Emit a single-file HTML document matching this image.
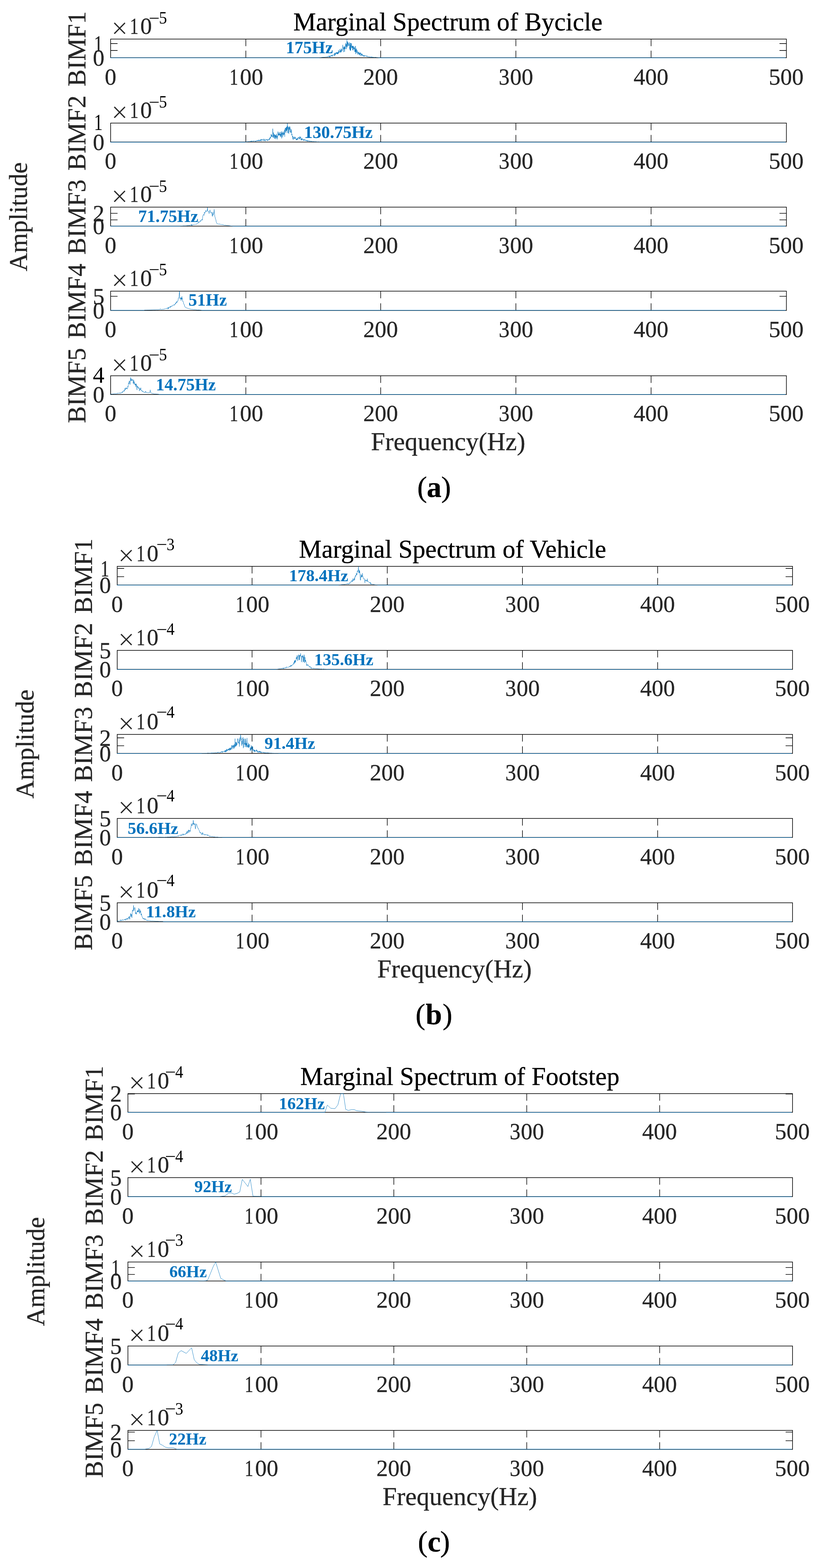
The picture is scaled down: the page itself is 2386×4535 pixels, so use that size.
<!DOCTYPE html>
<html lang="en">
<head>
<meta charset="utf-8">
<title>Marginal Spectrum</title>
<style>
html,body{margin:0;padding:0;background:#fff;}
body{width:2386px;height:4535px;overflow:hidden;}
svg{display:block;}
text{white-space:pre;}
</style>
</head>
<body>
<svg width="2386" height="4535" viewBox="0 0 2386 4535" font-family="'Liberation Serif', 'Times New Roman', serif" fill="#262626">
<style>text{stroke:#262626;stroke-width:0.45px;stroke-linejoin:round}.b{fill:#0072bd;stroke:none}.k{fill:#000;stroke:#000}</style>
<rect width="2386" height="4535" fill="#fff"/>
<g id="panel-a">
<rect x="319.96" y="113.00" width="1954.44" height="54.00" fill="none" stroke="#111" stroke-width="1.9"/>
<path d="M711.00 113.00v20.6M711.00 167.00v-20.6M1101.00 113.00v20.6M1101.00 167.00v-20.6M1492.00 113.00v20.6M1492.00 167.00v-20.6M1883.00 113.00v20.6M1883.00 167.00v-20.6M319.96 126.00h20.0M2274.40 126.00h-20.0M319.96 146.00h20.0M2274.40 146.00h-20.0" fill="none" stroke="#111" stroke-width="1.8"/>
<path d="M319.06 167.45H923.9M1094.9 167.45H2271.90" fill="none" stroke="#0072bd" stroke-width="1.25"/>
<path d="M923.9 167.4 L924.4 167.0 L924.9 166.4 L925.3 167.1 L925.8 166.8 L926.3 166.3 L926.8 166.1 L927.3 166.5 L927.8 166.5 L928.3 166.5 L928.8 166.0 L929.3 165.8 L929.7 166.2 L930.2 165.9 L930.7 165.7 L931.2 166.4 L931.7 165.5 L932.2 165.5 L932.7 165.8 L933.2 165.9 L933.7 165.9 L934.1 164.9 L934.6 164.6 L935.1 165.1 L935.6 165.7 L936.1 165.4 L936.6 165.9 L937.1 165.3 L937.6 164.8 L938.1 165.4 L938.5 165.3 L939.0 165.5 L939.5 165.2 L940.0 164.6 L940.5 164.9 L941.0 164.7 L941.5 164.0 L942.0 164.7 L942.4 164.8 L942.9 165.1 L943.4 164.9 L943.9 165.1 L944.4 164.6 L944.9 163.9 L945.4 163.6 L945.9 164.3 L946.4 165.3 L946.8 163.7 L947.3 164.3 L947.8 163.6 L948.3 164.1 L948.8 163.6 L949.3 164.4 L949.8 162.6 L950.3 163.1 L950.8 163.3 L951.2 161.7 L951.7 162.3 L952.2 165.0 L952.7 163.5 L953.2 161.6 L953.7 164.9 L954.2 162.4 L954.7 165.4 L955.2 161.7 L955.6 162.1 L956.1 162.2 L956.6 163.2 L957.1 161.5 L957.6 159.8 L958.1 161.9 L958.6 159.3 L959.1 159.7 L959.6 159.6 L960.0 159.8 L960.5 164.1 L961.0 160.2 L961.5 159.5 L962.0 161.4 L962.5 158.4 L963.0 158.6 L963.5 158.6 L963.9 158.7 L964.4 159.4 L964.9 158.2 L965.4 158.6 L965.9 158.4 L966.4 160.1 L966.9 159.1 L967.4 153.3 L967.9 161.7 L968.3 156.4 L968.8 157.0 L969.3 153.2 L969.8 158.4 L970.3 158.7 L970.8 153.1 L971.3 153.7 L971.8 152.0 L972.3 152.3 L972.7 154.4 L973.2 155.6 L973.7 150.7 L974.2 156.2 L974.7 152.7 L975.2 151.9 L975.7 155.6 L976.2 151.7 L976.7 151.2 L977.1 156.7 L977.6 151.4 L978.1 155.4 L978.6 146.5 L979.1 145.3 L979.6 153.4 L980.1 151.1 L980.6 150.5 L981.0 149.6 L981.5 149.1 L982.0 151.2 L982.5 148.2 L983.0 142.2 L983.5 145.8 L984.0 152.0 L984.5 147.6 L985.0 146.0 L985.4 147.7 L985.9 145.7 L986.4 151.5 L986.9 140.5 L987.4 150.1 L987.9 146.4 L988.4 143.1 L988.9 144.7 L989.4 144.3 L989.8 145.9 L990.3 146.4 L990.8 137.4 L991.3 129.8 L991.8 135.2 L992.3 139.8 L992.8 142.0 L993.3 140.7 L993.8 150.6 L994.2 135.7 L994.7 142.2 L995.2 140.0 L995.7 138.3 L996.2 133.9 L996.7 149.6 L997.2 137.7 L997.7 141.5 L998.2 134.9 L998.6 141.5 L999.1 133.0 L999.6 124.3 L1000.1 134.7 L1000.6 127.5 L1001.1 128.3 L1001.6 128.8 L1002.1 142.1 L1002.5 130.7 L1003.0 121.2 L1003.5 113.4 L1004.0 136.5 L1004.5 135.2 L1005.0 120.1 L1005.5 125.4 L1006.0 132.8 L1006.5 123.1 L1006.9 123.5 L1007.4 125.8 L1007.9 128.1 L1008.4 128.7 L1008.9 132.6 L1009.4 128.0 L1009.9 131.9 L1010.4 122.5 L1010.9 137.1 L1011.3 142.2 L1011.8 135.4 L1012.3 145.0 L1012.8 123.9 L1013.3 146.8 L1013.8 131.3 L1014.3 146.0 L1014.8 125.1 L1015.3 126.1 L1015.7 134.2 L1016.2 125.5 L1016.7 136.9 L1017.2 139.9 L1017.7 133.7 L1018.2 133.1 L1018.7 137.9 L1019.2 137.1 L1019.6 132.3 L1020.1 145.0 L1020.6 136.7 L1021.1 133.6 L1021.6 145.5 L1022.1 133.2 L1022.6 134.5 L1023.1 140.9 L1023.6 138.0 L1024.0 138.6 L1024.5 138.8 L1025.0 142.4 L1025.5 135.2 L1026.0 149.8 L1026.5 140.4 L1027.0 144.3 L1027.5 150.0 L1028.0 133.0 L1028.4 142.9 L1028.9 156.2 L1029.4 144.0 L1029.9 152.5 L1030.4 145.6 L1030.9 140.5 L1031.4 141.8 L1031.9 149.7 L1032.4 152.1 L1032.8 153.4 L1033.3 145.5 L1033.8 149.3 L1034.3 157.8 L1034.8 154.5 L1035.3 150.7 L1035.8 150.6 L1036.3 151.6 L1036.8 155.6 L1037.2 154.7 L1037.7 156.8 L1038.2 149.9 L1038.7 158.9 L1039.2 156.1 L1039.7 153.6 L1040.2 156.0 L1040.7 160.1 L1041.1 153.0 L1041.6 156.0 L1042.1 155.4 L1042.6 153.5 L1043.1 151.8 L1043.6 159.7 L1044.1 162.5 L1044.6 155.0 L1045.1 155.8 L1045.5 157.1 L1046.0 158.1 L1046.5 157.1 L1047.0 160.7 L1047.5 155.2 L1048.0 159.6 L1048.5 159.5 L1049.0 158.7 L1049.5 162.7 L1049.9 160.8 L1050.4 159.5 L1050.9 160.2 L1051.4 162.5 L1051.9 162.2 L1052.4 160.7 L1052.9 163.6 L1053.4 160.2 L1053.9 162.6 L1054.3 162.3 L1054.8 163.0 L1055.3 160.7 L1055.8 160.1 L1056.3 159.8 L1056.8 161.5 L1057.3 162.0 L1057.8 163.0 L1058.2 162.1 L1058.7 163.4 L1059.2 163.5 L1059.7 163.6 L1060.2 162.7 L1060.7 160.6 L1061.2 163.2 L1061.7 161.9 L1062.2 162.8 L1062.6 165.0 L1063.1 164.2 L1063.6 164.1 L1064.1 163.4 L1064.6 164.2 L1065.1 163.7 L1065.6 164.8 L1066.1 165.1 L1066.6 163.8 L1067.0 164.3 L1067.5 164.6 L1068.0 163.7 L1068.5 165.4 L1069.0 164.2 L1069.5 164.4 L1070.0 164.9 L1070.5 165.3 L1071.0 164.0 L1071.4 164.4 L1071.9 164.5 L1072.4 164.9 L1072.9 165.0 L1073.4 165.6 L1073.9 163.6 L1074.4 164.3 L1074.9 165.3 L1075.4 166.7 L1075.8 165.0 L1076.3 165.6 L1076.8 165.1 L1077.3 164.3 L1077.8 165.3 L1078.3 165.2 L1078.8 165.1 L1079.3 165.9 L1079.7 165.8 L1080.2 164.9 L1080.7 165.9 L1081.2 166.4 L1081.7 166.1 L1082.2 165.7 L1082.7 166.0 L1083.2 165.7 L1083.7 165.7 L1084.1 165.9 L1084.6 164.9 L1085.1 165.8 L1085.6 166.1 L1086.1 165.8 L1086.6 165.7 L1087.1 165.9 L1087.6 165.4 L1088.1 166.4 L1088.5 166.1 L1089.0 165.8 L1089.5 166.2 L1090.0 166.4 L1090.5 166.3 L1091.0 166.0 L1091.5 166.1 L1092.0 166.0 L1092.5 166.5 L1092.9 166.8 L1093.4 166.7 L1093.9 166.9 L1094.4 166.3 L1094.9 167.0" fill="none" stroke="#0072bd" stroke-width="1.0" stroke-linejoin="round"/>
<text x="826.80" y="154.00" font-size="50.0" font-weight="bold" class="b">175Hz</text>
<text x="319.66" y="245.15" font-size="67.1" text-anchor="middle">0</text>
<text y="245.15" font-size="67.1"><tspan x="663.73" textLength="25.16" lengthAdjust="spacingAndGlyphs">1</tspan><tspan x="693.92">00</tspan></text>
<text x="1100.70" y="245.15" font-size="67.1" text-anchor="middle">200</text>
<text y="245.15" font-size="67.1"><tspan x="1442.58" textLength="31.20" lengthAdjust="spacingAndGlyphs">3</tspan><tspan x="1474.92">00</tspan></text>
<text x="1882.70" y="245.15" font-size="67.1" text-anchor="middle">400</text>
<text x="2273.70" y="245.15" font-size="67.1" text-anchor="middle">500</text>
<text y="149.00" font-size="67.1"><tspan x="271.76" textLength="25.16" lengthAdjust="spacingAndGlyphs">1</tspan></text>
<text x="301.96" y="190.20" font-size="67.1" text-anchor="end">0</text>
<text y="98.30" font-size="67.1"><tspan x="322.36" y="110.10" font-size="84" style="stroke:#fff;stroke-width:0.5px">×</tspan><tspan x="375.51" y="98.30" textLength="25.16" lengthAdjust="spacingAndGlyphs">1</tspan><tspan x="405.71">0</tspan><tspan x="429.96" y="69.80" font-size="51.5" class="k" style="stroke:none" textLength="31.37" lengthAdjust="spacingAndGlyphs">−</tspan><tspan x="459.81" y="68.40" font-size="51.5" class="k" style="stroke:none" textLength="23.18" lengthAdjust="spacingAndGlyphs">5</tspan></text>
<text transform="translate(247.06 249.90) rotate(-90)" font-size="73.8">BIMF1</text>
<rect x="319.96" y="356.00" width="1954.44" height="54.80" fill="none" stroke="#111" stroke-width="1.9"/>
<path d="M711.00 356.00v20.6M711.00 410.80v-20.6M1101.00 356.00v20.6M1101.00 410.80v-20.6M1492.00 356.00v20.6M1492.00 410.80v-20.6M1883.00 356.00v20.6M1883.00 410.80v-20.6" fill="none" stroke="#111" stroke-width="1.8"/>
<path d="M319.06 411.25H709.7M925.2 411.25H2271.90" fill="none" stroke="#0072bd" stroke-width="1.25"/>
<path d="M709.7 410.9 L710.2 410.6 L710.7 410.4 L711.1 410.0 L711.6 409.9 L712.1 410.5 L712.6 409.9 L713.1 410.1 L713.6 410.5 L714.1 409.9 L714.6 410.0 L715.1 409.7 L715.5 410.4 L716.0 409.3 L716.5 409.9 L717.0 409.3 L717.5 410.5 L718.0 409.6 L718.5 409.1 L719.0 409.6 L719.4 408.9 L719.9 408.8 L720.4 409.4 L720.9 409.0 L721.4 408.6 L721.9 408.9 L722.4 409.3 L722.9 409.0 L723.4 408.9 L723.8 408.0 L724.3 408.4 L724.8 408.4 L725.3 409.2 L725.8 410.1 L726.3 407.2 L726.8 409.5 L727.3 407.6 L727.8 407.9 L728.2 409.0 L728.7 408.3 L729.2 408.5 L729.7 407.5 L730.2 408.9 L730.7 408.8 L731.2 408.3 L731.7 409.2 L732.2 408.4 L732.6 406.8 L733.1 407.7 L733.6 408.9 L734.1 408.0 L734.6 407.9 L735.1 407.6 L735.6 407.2 L736.1 407.8 L736.5 408.0 L737.0 407.5 L737.5 409.3 L738.0 408.5 L738.5 407.5 L739.0 407.4 L739.5 409.5 L740.0 408.6 L740.5 407.7 L740.9 408.8 L741.4 408.6 L741.9 407.5 L742.4 405.5 L742.9 405.9 L743.4 407.6 L743.9 407.1 L744.4 407.3 L744.9 405.8 L745.3 406.4 L745.8 407.9 L746.3 405.3 L746.8 407.1 L747.3 406.2 L747.8 406.0 L748.3 404.5 L748.8 407.0 L749.3 408.2 L749.7 405.6 L750.2 405.6 L750.7 406.8 L751.2 407.7 L751.7 405.4 L752.2 404.6 L752.7 405.1 L753.2 407.1 L753.7 404.4 L754.1 405.6 L754.6 402.7 L755.1 408.4 L755.6 405.7 L756.1 403.3 L756.6 403.7 L757.1 402.4 L757.6 404.5 L758.0 405.8 L758.5 404.8 L759.0 405.0 L759.5 405.0 L760.0 404.7 L760.5 406.4 L761.0 403.1 L761.5 401.7 L762.0 401.6 L762.4 405.9 L762.9 406.5 L763.4 407.4 L763.9 405.2 L764.4 406.4 L764.9 405.5 L765.4 406.4 L765.9 401.7 L766.4 405.4 L766.8 405.5 L767.3 408.3 L767.8 405.9 L768.3 405.2 L768.8 404.9 L769.3 404.9 L769.8 404.9 L770.3 402.6 L770.8 402.5 L771.2 403.5 L771.7 405.3 L772.2 403.7 L772.7 403.7 L773.2 407.3 L773.7 403.6 L774.2 405.3 L774.7 404.5 L775.1 405.0 L775.6 406.1 L776.1 404.7 L776.6 403.4 L777.1 404.7 L777.6 405.6 L778.1 401.4 L778.6 402.4 L779.1 400.2 L779.5 403.8 L780.0 403.2 L780.5 401.1 L781.0 396.2 L781.5 396.3 L782.0 399.1 L782.5 400.3 L783.0 396.6 L783.5 396.6 L783.9 389.3 L784.4 387.8 L784.9 391.6 L785.4 395.5 L785.9 390.1 L786.4 394.2 L786.9 392.9 L787.4 395.0 L787.9 396.9 L788.3 391.5 L788.8 372.2 L789.3 384.6 L789.8 384.8 L790.3 395.4 L790.8 398.7 L791.3 383.5 L791.8 395.8 L792.3 391.3 L792.7 389.5 L793.2 397.4 L793.7 400.9 L794.2 388.4 L794.7 390.5 L795.2 389.7 L795.7 401.6 L796.2 391.2 L796.6 395.3 L797.1 397.9 L797.6 390.9 L798.1 393.4 L798.6 402.5 L799.1 392.4 L799.6 387.2 L800.1 390.7 L800.6 399.1 L801.0 392.8 L801.5 393.3 L802.0 397.7 L802.5 403.2 L803.0 393.7 L803.5 394.4 L804.0 380.5 L804.5 391.8 L805.0 389.6 L805.4 383.6 L805.9 388.5 L806.4 390.9 L806.9 387.8 L807.4 392.0 L807.9 388.6 L808.4 389.7 L808.9 383.6 L809.4 390.7 L809.8 381.6 L810.3 395.5 L810.8 388.7 L811.3 388.2 L811.8 392.4 L812.3 387.5 L812.8 396.5 L813.3 383.2 L813.7 385.7 L814.2 379.9 L814.7 400.4 L815.2 384.8 L815.7 388.3 L816.2 388.6 L816.7 383.7 L817.2 391.1 L817.7 396.8 L818.1 382.4 L818.6 380.4 L819.1 382.2 L819.6 388.6 L820.1 391.3 L820.6 384.2 L821.1 384.9 L821.6 389.1 L822.1 383.1 L822.5 375.7 L823.0 378.3 L823.5 395.5 L824.0 373.6 L824.5 374.1 L825.0 370.0 L825.5 383.7 L826.0 381.3 L826.5 378.6 L826.9 369.6 L827.4 373.7 L827.9 378.7 L828.4 366.6 L828.9 376.8 L829.4 367.1 L829.9 375.8 L830.4 384.8 L830.9 357.2 L831.3 365.9 L831.8 367.9 L832.3 374.3 L832.8 365.3 L833.3 379.9 L833.8 384.6 L834.3 367.6 L834.8 368.5 L835.2 386.4 L835.7 381.5 L836.2 368.4 L836.7 374.8 L837.2 365.9 L837.7 365.4 L838.2 374.7 L838.7 366.9 L839.2 381.3 L839.6 371.8 L840.1 377.8 L840.6 384.0 L841.1 380.9 L841.6 383.4 L842.1 382.0 L842.6 374.2 L843.1 375.6 L843.6 391.0 L844.0 389.2 L844.5 387.5 L845.0 391.7 L845.5 395.5 L846.0 396.0 L846.5 394.1 L847.0 401.7 L847.5 394.3 L848.0 404.2 L848.4 400.4 L848.9 397.8 L849.4 397.7 L849.9 397.2 L850.4 398.8 L850.9 400.6 L851.4 401.1 L851.9 398.9 L852.3 395.2 L852.8 401.8 L853.3 400.5 L853.8 398.9 L854.3 396.8 L854.8 397.1 L855.3 399.8 L855.8 402.8 L856.3 402.0 L856.7 404.6 L857.2 403.1 L857.7 402.1 L858.2 405.5 L858.7 400.7 L859.2 404.9 L859.7 398.7 L860.2 401.8 L860.7 401.8 L861.1 402.5 L861.6 403.8 L862.1 402.3 L862.6 397.0 L863.1 400.0 L863.6 399.5 L864.1 397.3 L864.6 399.5 L865.1 400.5 L865.5 400.1 L866.0 402.3 L866.5 394.8 L867.0 400.6 L867.5 402.1 L868.0 395.6 L868.5 395.7 L869.0 397.7 L869.5 398.3 L869.9 396.1 L870.4 404.2 L870.9 402.0 L871.4 400.7 L871.9 406.1 L872.4 402.1 L872.9 403.3 L873.4 402.3 L873.8 399.4 L874.3 404.8 L874.8 404.4 L875.3 404.9 L875.8 403.7 L876.3 403.8 L876.8 402.3 L877.3 402.9 L877.8 407.1 L878.2 405.4 L878.7 404.2 L879.2 403.8 L879.7 405.6 L880.2 406.2 L880.7 404.9 L881.2 403.4 L881.7 402.6 L882.2 406.0 L882.6 404.9 L883.1 405.9 L883.6 406.8 L884.1 405.6 L884.6 407.1 L885.1 406.8 L885.6 407.2 L886.1 405.4 L886.6 407.3 L887.0 406.7 L887.5 406.3 L888.0 408.2 L888.5 408.2 L889.0 405.8 L889.5 407.0 L890.0 408.5 L890.5 406.6 L890.9 407.7 L891.4 408.2 L891.9 409.0 L892.4 408.4 L892.9 406.7 L893.4 406.4 L893.9 406.4 L894.4 407.9 L894.9 408.2 L895.3 409.7 L895.8 407.9 L896.3 408.9 L896.8 408.6 L897.3 407.6 L897.8 407.9 L898.3 408.5 L898.8 409.4 L899.3 408.9 L899.7 407.6 L900.2 407.9 L900.7 409.3 L901.2 408.1 L901.7 409.2 L902.2 409.6 L902.7 409.1 L903.2 409.6 L903.7 409.5 L904.1 409.3 L904.6 408.4 L905.1 408.8 L905.6 409.9 L906.1 409.4 L906.6 409.2 L907.1 409.6 L907.6 409.1 L908.1 410.2 L908.5 409.7 L909.0 409.6 L909.5 409.7 L910.0 409.4 L910.5 409.0 L911.0 409.6 L911.5 410.3 L912.0 410.1 L912.4 409.6 L912.9 409.9 L913.4 409.7 L913.9 409.3 L914.4 409.8 L914.9 410.2 L915.4 410.1 L915.9 410.0 L916.4 410.2 L916.8 410.4 L917.3 410.2 L917.8 409.8 L918.3 410.2 L918.8 410.7 L919.3 410.0 L919.8 410.1 L920.3 409.9 L920.8 410.4 L921.2 410.2 L921.7 410.2 L922.2 409.7 L922.7 410.2 L923.2 410.5 L923.7 410.7 L924.2 410.6 L924.7 410.6 L925.2 411.2" fill="none" stroke="#0072bd" stroke-width="1.0" stroke-linejoin="round"/>
<text x="879.15" y="399.40" font-size="50.0" font-weight="bold" class="b">130.75Hz</text>
<text x="319.66" y="488.48" font-size="67.1" text-anchor="middle">0</text>
<text y="488.48" font-size="67.1"><tspan x="663.73" textLength="25.16" lengthAdjust="spacingAndGlyphs">1</tspan><tspan x="693.92">00</tspan></text>
<text x="1100.70" y="488.48" font-size="67.1" text-anchor="middle">200</text>
<text y="488.48" font-size="67.1"><tspan x="1442.58" textLength="31.20" lengthAdjust="spacingAndGlyphs">3</tspan><tspan x="1474.92">00</tspan></text>
<text x="1882.70" y="488.48" font-size="67.1" text-anchor="middle">400</text>
<text x="2273.70" y="488.48" font-size="67.1" text-anchor="middle">500</text>
<text y="376.00" font-size="67.1" class="k" style="stroke:none"><tspan x="271.76" textLength="25.16" lengthAdjust="spacingAndGlyphs">1</tspan></text>
<text x="301.96" y="434.00" font-size="67.1" text-anchor="end">0</text>
<text y="341.30" font-size="67.1"><tspan x="322.36" y="353.10" font-size="84" style="stroke:#fff;stroke-width:0.5px">×</tspan><tspan x="375.51" y="341.30" textLength="25.16" lengthAdjust="spacingAndGlyphs">1</tspan><tspan x="405.71">0</tspan><tspan x="429.96" y="312.80" font-size="51.5" class="k" style="stroke:none" textLength="31.37" lengthAdjust="spacingAndGlyphs">−</tspan><tspan x="459.81" y="311.40" font-size="51.5" class="k" style="stroke:none" textLength="23.18" lengthAdjust="spacingAndGlyphs">5</tspan></text>
<text transform="translate(247.06 493.30) rotate(-90)" font-size="73.8">BIMF2</text>
<rect x="319.96" y="599.10" width="1954.44" height="54.90" fill="none" stroke="#111" stroke-width="1.9"/>
<path d="M711.00 599.10v20.6M711.00 654.00v-20.6M1101.00 599.10v20.6M1101.00 654.00v-20.6M1492.00 599.10v20.6M1492.00 654.00v-20.6M1883.00 599.10v20.6M1883.00 654.00v-20.6M319.96 616.90h20.0M2274.40 616.90h-20.0M319.96 635.90h20.0M2274.40 635.90h-20.0" fill="none" stroke="#111" stroke-width="1.8"/>
<path d="M319.06 654.45H521.7M672.2 654.45H2271.90" fill="none" stroke="#0072bd" stroke-width="1.25"/>
<path d="M521.7 654.4 L522.6 653.8 L523.6 653.5 L524.6 653.6 L525.6 653.6 L526.5 653.4 L527.5 653.5 L528.5 653.3 L529.5 653.4 L530.5 652.5 L531.4 653.5 L532.4 653.0 L533.4 653.2 L534.4 652.9 L535.3 653.2 L536.3 653.2 L537.3 653.1 L538.3 652.7 L539.2 653.0 L540.2 652.9 L541.2 652.6 L542.2 652.4 L543.2 652.3 L544.1 652.6 L545.1 652.2 L546.1 651.3 L547.1 652.1 L548.0 652.1 L549.0 651.9 L550.0 651.8 L551.0 651.1 L552.0 649.8 L552.9 651.4 L553.9 648.8 L554.9 652.9 L555.9 650.0 L556.8 650.4 L557.8 649.7 L558.8 649.5 L559.8 649.3 L560.7 649.5 L561.7 648.9 L562.7 649.3 L563.7 648.3 L564.7 649.0 L565.6 648.6 L566.6 648.9 L567.6 647.6 L568.6 647.8 L569.5 648.8 L570.5 646.6 L571.5 645.2 L572.5 644.5 L573.5 645.2 L574.4 640.1 L575.4 643.8 L576.4 642.4 L577.4 640.8 L578.3 640.3 L579.3 641.3 L580.3 637.4 L581.3 639.3 L582.2 635.9 L583.2 634.9 L584.2 634.2 L585.2 637.0 L586.2 627.9 L587.1 622.5 L588.1 621.7 L589.1 620.3 L590.1 622.9 L591.0 613.8 L592.0 616.5 L593.0 616.3 L594.0 612.5 L594.9 608.8 L595.9 611.5 L596.9 610.0 L597.9 611.6 L598.9 610.3 L599.8 600.5 L600.8 610.5 L601.8 611.0 L602.8 611.5 L603.7 611.4 L604.7 618.0 L605.7 609.7 L606.7 608.7 L607.7 607.1 L608.6 614.5 L609.6 613.7 L610.6 612.9 L611.6 616.4 L612.5 614.7 L613.5 623.6 L614.5 626.1 L615.5 613.6 L616.4 622.5 L617.4 618.8 L618.4 617.7 L619.4 605.5 L620.4 618.1 L621.3 626.2 L622.3 628.9 L623.3 633.9 L624.3 635.2 L625.2 641.3 L626.2 643.4 L627.2 646.2 L628.2 646.8 L629.2 647.0 L630.1 648.4 L631.1 648.7 L632.1 647.6 L633.1 647.8 L634.0 648.1 L635.0 648.5 L636.0 647.9 L637.0 649.0 L637.9 648.7 L638.9 649.7 L639.9 649.2 L640.9 648.9 L641.9 649.6 L642.8 650.0 L643.8 648.8 L644.8 650.0 L645.8 650.2 L646.7 650.7 L647.7 650.1 L648.7 650.9 L649.7 651.4 L650.7 651.6 L651.6 651.5 L652.6 650.3 L653.6 651.9 L654.6 651.7 L655.5 652.2 L656.5 651.8 L657.5 652.3 L658.5 652.1 L659.4 652.7 L660.4 652.2 L661.4 652.5 L662.4 653.0 L663.4 652.7 L664.3 653.0 L665.3 653.0 L666.3 653.5 L667.3 653.3 L668.2 653.4 L669.2 653.6 L670.2 653.6 L671.2 653.5 L672.2 654.4" fill="none" stroke="#0072bd" stroke-width="1.0" stroke-linejoin="round"/>
<text x="399.85" y="642.00" font-size="50.0" font-weight="bold" class="b">71.75Hz</text>
<text x="319.66" y="731.81" font-size="67.1" text-anchor="middle">0</text>
<text y="731.81" font-size="67.1"><tspan x="663.73" textLength="25.16" lengthAdjust="spacingAndGlyphs">1</tspan><tspan x="693.92">00</tspan></text>
<text x="1100.70" y="731.81" font-size="67.1" text-anchor="middle">200</text>
<text y="731.81" font-size="67.1"><tspan x="1442.58" textLength="31.20" lengthAdjust="spacingAndGlyphs">3</tspan><tspan x="1474.92">00</tspan></text>
<text x="1882.70" y="731.81" font-size="67.1" text-anchor="middle">400</text>
<text x="2273.70" y="731.81" font-size="67.1" text-anchor="middle">500</text>
<text x="301.96" y="639.90" font-size="67.1" text-anchor="end">2</text>
<text x="301.96" y="677.20" font-size="67.1" text-anchor="end">0</text>
<text y="584.40" font-size="67.1"><tspan x="322.36" y="596.20" font-size="84" style="stroke:#fff;stroke-width:0.5px">×</tspan><tspan x="375.51" y="584.40" textLength="25.16" lengthAdjust="spacingAndGlyphs">1</tspan><tspan x="405.71">0</tspan><tspan x="429.96" y="555.90" font-size="51.5" class="k" style="stroke:none" textLength="31.37" lengthAdjust="spacingAndGlyphs">−</tspan><tspan x="459.81" y="554.50" font-size="51.5" class="k" style="stroke:none" textLength="23.18" lengthAdjust="spacingAndGlyphs">5</tspan></text>
<text transform="translate(247.06 736.45) rotate(-90)" font-size="73.8">BIMF3</text>
<rect x="319.96" y="842.10" width="1954.44" height="55.80" fill="none" stroke="#111" stroke-width="1.9"/>
<path d="M711.00 842.10v20.6M711.00 897.90v-20.6M1101.00 842.10v20.6M1101.00 897.90v-20.6M1492.00 842.10v20.6M1492.00 897.90v-20.6M1883.00 842.10v20.6M1883.00 897.90v-20.6M319.96 856.90h20.0M2274.40 856.90h-20.0" fill="none" stroke="#111" stroke-width="1.8"/>
<path d="M319.06 897.45H417.3M583.0 897.45H2271.90" fill="none" stroke="#0072bd" stroke-width="1.25"/>
<path d="M417.3 897.3 L418.1 896.7 L418.9 896.5 L419.6 896.7 L420.4 896.9 L421.2 896.9 L422.0 896.6 L422.8 896.4 L423.5 896.8 L424.3 896.8 L425.1 896.8 L425.9 896.3 L426.7 896.4 L427.5 896.7 L428.2 896.5 L429.0 896.8 L429.8 896.2 L430.6 896.7 L431.4 896.4 L432.1 896.6 L432.9 896.2 L433.7 896.4 L434.5 896.4 L435.3 896.4 L436.1 896.0 L436.8 896.3 L437.6 896.3 L438.4 896.1 L439.2 896.2 L440.0 896.2 L440.7 896.2 L441.5 895.6 L442.3 896.2 L443.1 896.1 L443.9 895.3 L444.7 895.9 L445.4 896.1 L446.2 895.9 L447.0 895.6 L447.8 896.1 L448.6 895.9 L449.3 895.8 L450.1 895.7 L450.9 895.6 L451.7 895.9 L452.5 895.4 L453.3 895.2 L454.0 895.9 L454.8 895.4 L455.6 896.1 L456.4 895.3 L457.2 896.2 L457.9 895.8 L458.7 894.9 L459.5 894.8 L460.3 894.8 L461.1 895.0 L461.9 895.1 L462.6 895.0 L463.4 893.5 L464.2 893.2 L465.0 894.7 L465.8 894.9 L466.5 894.6 L467.3 895.6 L468.1 895.1 L468.9 894.5 L469.7 894.3 L470.5 894.4 L471.2 895.2 L472.0 894.0 L472.8 894.6 L473.6 894.1 L474.4 894.0 L475.1 894.3 L475.9 893.2 L476.7 893.6 L477.5 893.2 L478.3 893.0 L479.1 892.4 L479.8 892.1 L480.6 892.2 L481.4 891.8 L482.2 891.7 L483.0 891.9 L483.7 893.9 L484.5 891.4 L485.3 891.0 L486.1 888.4 L486.9 893.7 L487.7 890.9 L488.4 891.4 L489.2 887.9 L490.0 887.7 L490.8 888.4 L491.6 887.9 L492.3 890.1 L493.1 885.5 L493.9 887.6 L494.7 885.7 L495.5 886.0 L496.3 886.2 L497.0 884.6 L497.8 885.8 L498.6 884.8 L499.4 882.8 L500.2 882.0 L500.9 882.8 L501.7 881.8 L502.5 883.1 L503.3 882.7 L504.1 880.6 L504.9 882.3 L505.6 882.0 L506.4 880.0 L507.2 876.1 L508.0 878.3 L508.8 878.4 L509.5 874.4 L510.3 872.2 L511.1 875.6 L511.9 872.8 L512.7 873.3 L513.4 873.3 L514.2 869.2 L515.0 869.3 L515.8 862.1 L516.6 861.4 L517.4 862.3 L518.1 854.0 L518.9 842.4 L519.7 853.6 L520.5 865.2 L521.3 861.6 L522.0 862.2 L522.8 861.1 L523.6 869.6 L524.4 861.0 L525.2 866.0 L526.0 857.4 L526.7 864.6 L527.5 863.1 L528.3 871.7 L529.1 871.1 L529.9 872.4 L530.6 875.7 L531.4 879.0 L532.2 880.4 L533.0 880.9 L533.8 885.5 L534.6 887.3 L535.3 887.6 L536.1 887.8 L536.9 889.7 L537.7 889.5 L538.5 890.4 L539.2 890.3 L540.0 890.0 L540.8 890.9 L541.6 892.1 L542.4 891.2 L543.2 891.8 L543.9 892.0 L544.7 891.9 L545.5 892.8 L546.3 892.5 L547.1 892.2 L547.8 893.2 L548.6 893.5 L549.4 893.5 L550.2 893.9 L551.0 893.9 L551.8 894.1 L552.5 894.4 L553.3 894.3 L554.1 894.8 L554.9 894.4 L555.7 894.7 L556.4 894.0 L557.2 894.9 L558.0 894.9 L558.8 895.4 L559.6 895.1 L560.4 895.2 L561.1 895.5 L561.9 896.0 L562.7 895.7 L563.5 894.4 L564.3 895.4 L565.0 895.9 L565.8 895.6 L566.6 895.9 L567.4 895.8 L568.2 896.1 L569.0 895.7 L569.7 896.2 L570.5 896.6 L571.3 896.2 L572.1 896.5 L572.9 896.1 L573.6 896.2 L574.4 896.4 L575.2 896.7 L576.0 895.6 L576.8 896.7 L577.6 896.9 L578.3 896.6 L579.1 896.9 L579.9 896.7 L580.7 896.9 L581.5 897.0 L582.2 897.1 L583.0 897.2" fill="none" stroke="#0072bd" stroke-width="1.0" stroke-linejoin="round"/>
<text x="545.05" y="883.50" font-size="50.0" font-weight="bold" class="b">51Hz</text>
<text x="319.66" y="975.14" font-size="67.1" text-anchor="middle">0</text>
<text y="975.14" font-size="67.1"><tspan x="663.73" textLength="25.16" lengthAdjust="spacingAndGlyphs">1</tspan><tspan x="693.92">00</tspan></text>
<text x="1100.70" y="975.14" font-size="67.1" text-anchor="middle">200</text>
<text y="975.14" font-size="67.1"><tspan x="1442.58" textLength="31.20" lengthAdjust="spacingAndGlyphs">3</tspan><tspan x="1474.92">00</tspan></text>
<text x="1882.70" y="975.14" font-size="67.1" text-anchor="middle">400</text>
<text x="2273.70" y="975.14" font-size="67.1" text-anchor="middle">500</text>
<text x="301.96" y="879.90" font-size="67.1" text-anchor="end">5</text>
<text x="301.96" y="921.10" font-size="67.1" text-anchor="end">0</text>
<text y="827.40" font-size="67.1"><tspan x="322.36" y="839.20" font-size="84" style="stroke:#fff;stroke-width:0.5px">×</tspan><tspan x="375.51" y="827.40" textLength="25.16" lengthAdjust="spacingAndGlyphs">1</tspan><tspan x="405.71">0</tspan><tspan x="429.96" y="796.90" font-size="51.5" class="k" style="stroke:none" textLength="31.37" lengthAdjust="spacingAndGlyphs">−</tspan><tspan x="459.81" y="795.50" font-size="51.5" class="k" style="stroke:none" textLength="23.18" lengthAdjust="spacingAndGlyphs">5</tspan></text>
<text transform="translate(247.06 979.90) rotate(-90)" font-size="73.8">BIMF4</text>
<rect x="319.96" y="1086.80" width="1954.44" height="54.20" fill="none" stroke="#111" stroke-width="1.9"/>
<path d="M711.00 1086.80v20.6M711.00 1141.00v-20.6M1101.00 1086.80v20.6M1101.00 1141.00v-20.6M1492.00 1086.80v20.6M1492.00 1141.00v-20.6M1883.00 1086.80v20.6M1883.00 1141.00v-20.6" fill="none" stroke="#111" stroke-width="1.8"/>
<path d="M319.06 1140.55H320.4M459.5 1140.55H2271.90" fill="none" stroke="#0072bd" stroke-width="1.25"/>
<path d="M320.4 1140.4 L321.1 1139.6 L321.9 1139.6 L322.7 1139.7 L323.5 1139.8 L324.3 1139.6 L325.0 1139.7 L325.8 1139.5 L326.6 1138.7 L327.4 1139.4 L328.2 1139.2 L329.0 1139.0 L329.7 1138.9 L330.5 1139.0 L331.3 1138.3 L332.1 1139.0 L332.9 1138.7 L333.6 1138.9 L334.4 1138.7 L335.2 1138.8 L336.0 1138.9 L336.8 1138.6 L337.5 1138.3 L338.3 1138.1 L339.1 1138.8 L339.9 1138.3 L340.7 1136.4 L341.5 1137.3 L342.2 1137.9 L343.0 1137.5 L343.8 1137.2 L344.6 1136.8 L345.4 1136.6 L346.1 1137.5 L346.9 1136.2 L347.7 1137.5 L348.5 1136.0 L349.3 1137.3 L350.1 1136.0 L350.8 1136.2 L351.6 1136.5 L352.4 1134.6 L353.2 1133.4 L354.0 1135.6 L354.7 1132.4 L355.5 1132.2 L356.3 1132.9 L357.1 1130.8 L357.9 1131.5 L358.7 1128.7 L359.4 1131.6 L360.2 1130.3 L361.0 1123.2 L361.8 1124.8 L362.6 1127.7 L363.3 1125.5 L364.1 1121.4 L364.9 1124.8 L365.7 1121.8 L366.5 1122.4 L367.3 1124.1 L368.0 1125.0 L368.8 1124.9 L369.6 1116.9 L370.4 1119.4 L371.2 1112.8 L371.9 1106.9 L372.7 1110.1 L373.5 1102.3 L374.3 1101.4 L375.1 1105.8 L375.9 1112.3 L376.6 1104.8 L377.4 1097.9 L378.2 1091.5 L379.0 1102.3 L379.8 1095.7 L380.5 1100.2 L381.3 1099.7 L382.1 1099.1 L382.9 1100.8 L383.7 1096.4 L384.5 1099.6 L385.2 1109.1 L386.0 1107.1 L386.8 1099.2 L387.6 1112.0 L388.4 1103.9 L389.1 1109.7 L389.9 1110.2 L390.7 1113.6 L391.5 1111.1 L392.3 1109.8 L393.1 1119.3 L393.8 1109.9 L394.6 1115.1 L395.4 1115.1 L396.2 1127.9 L397.0 1117.9 L397.7 1115.9 L398.5 1120.9 L399.3 1118.8 L400.1 1119.3 L400.9 1123.9 L401.7 1121.8 L402.4 1121.1 L403.2 1130.8 L404.0 1124.1 L404.8 1125.0 L405.6 1125.0 L406.3 1127.5 L407.1 1121.3 L407.9 1129.0 L408.7 1130.3 L409.5 1129.3 L410.3 1131.0 L411.0 1129.9 L411.8 1132.5 L412.6 1132.6 L413.4 1130.9 L414.2 1133.2 L414.9 1133.4 L415.7 1133.6 L416.5 1135.2 L417.3 1135.0 L418.1 1134.5 L418.9 1135.5 L419.6 1133.9 L420.4 1134.9 L421.2 1131.6 L422.0 1134.6 L422.8 1135.2 L423.5 1134.0 L424.3 1135.5 L425.1 1135.3 L425.9 1135.8 L426.7 1136.0 L427.5 1135.4 L428.2 1135.3 L429.0 1135.7 L429.8 1135.9 L430.6 1136.5 L431.4 1135.2 L432.1 1135.3 L432.9 1134.6 L433.7 1135.2 L434.5 1127.5 L435.3 1134.7 L436.1 1135.4 L436.8 1136.3 L437.6 1136.3 L438.4 1136.9 L439.2 1137.5 L440.0 1137.9 L440.7 1137.4 L441.5 1138.4 L442.3 1138.1 L443.1 1138.5 L443.9 1138.8 L444.7 1138.9 L445.4 1139.0 L446.2 1139.1 L447.0 1139.3 L447.8 1139.4 L448.6 1139.9 L449.3 1139.3 L450.1 1139.1 L450.9 1139.1 L451.7 1139.7 L452.5 1139.4 L453.3 1139.8 L454.0 1139.8 L454.8 1139.8 L455.6 1139.8 L456.4 1139.8 L457.2 1140.0 L457.9 1139.8 L458.7 1140.2 L459.5 1140.3" fill="none" stroke="#0072bd" stroke-width="1.0" stroke-linejoin="round"/>
<text x="450.70" y="1129.00" font-size="50.0" font-weight="bold" class="b">14.75Hz</text>
<text x="319.66" y="1218.47" font-size="67.1" text-anchor="middle">0</text>
<text y="1218.47" font-size="67.1"><tspan x="663.73" textLength="25.16" lengthAdjust="spacingAndGlyphs">1</tspan><tspan x="693.92">00</tspan></text>
<text x="1100.70" y="1218.47" font-size="67.1" text-anchor="middle">200</text>
<text y="1218.47" font-size="67.1"><tspan x="1442.58" textLength="31.20" lengthAdjust="spacingAndGlyphs">3</tspan><tspan x="1474.92">00</tspan></text>
<text x="1882.70" y="1218.47" font-size="67.1" text-anchor="middle">400</text>
<text x="2273.70" y="1218.47" font-size="67.1" text-anchor="middle">500</text>
<text x="301.96" y="1106.80" font-size="67.1" text-anchor="end" class="k" style="stroke:none">4</text>
<text x="301.96" y="1164.20" font-size="67.1" text-anchor="end">0</text>
<text y="1072.10" font-size="67.1"><tspan x="322.36" y="1083.90" font-size="84" style="stroke:#fff;stroke-width:0.5px">×</tspan><tspan x="375.51" y="1072.10" textLength="25.16" lengthAdjust="spacingAndGlyphs">1</tspan><tspan x="405.71">0</tspan><tspan x="429.96" y="1043.60" font-size="51.5" class="k" style="stroke:none" textLength="31.37" lengthAdjust="spacingAndGlyphs">−</tspan><tspan x="459.81" y="1042.20" font-size="51.5" class="k" style="stroke:none" textLength="23.18" lengthAdjust="spacingAndGlyphs">5</tspan></text>
<text transform="translate(247.06 1223.80) rotate(-90)" font-size="73.8">BIMF5</text>
<text x="848.22" y="88.30" font-size="73.8" class="k">Marginal Spectrum of Bycicle</text>
<text transform="translate(77.56 784.86) rotate(-90)" font-size="73.8">Amplitude</text>
<text x="1072.72" y="1302.20" font-size="73.8">Frequency(Hz)</text>
<text y="1436.90" font-size="85" class="k"><tspan x="1206.85">(</tspan><tspan x="1234.35" font-weight="bold">a</tspan><tspan x="1276.05">)</tspan></text>
</g>
<g id="panel-b">
<rect x="339.00" y="1638.00" width="1953.10" height="54.00" fill="none" stroke="#111" stroke-width="1.9"/>
<path d="M729.00 1638.00v20.6M729.00 1692.00v-20.6M1120.00 1638.00v20.6M1120.00 1692.00v-20.6M1511.00 1638.00v20.6M1511.00 1692.00v-20.6M1902.00 1638.00v20.6M1902.00 1692.00v-20.6M339.00 1644.00h20.0M2292.10 1644.00h-20.0M339.00 1667.95h20.0M2292.10 1667.95h-20.0" fill="none" stroke="#111" stroke-width="1.8"/>
<path d="M338.10 1692.45H979.6M1091.3 1692.45H2289.60" fill="none" stroke="#0072bd" stroke-width="1.25"/>
<path d="M979.6 1691.8 L980.4 1691.6 L981.2 1691.7 L982.0 1691.3 L982.7 1691.5 L983.5 1691.3 L984.3 1691.3 L985.1 1691.2 L985.9 1691.5 L986.6 1691.1 L987.4 1691.1 L988.2 1690.4 L989.0 1691.2 L989.8 1690.7 L990.6 1690.5 L991.3 1691.0 L992.1 1690.6 L992.9 1690.6 L993.7 1690.5 L994.5 1690.6 L995.2 1690.3 L996.0 1690.7 L996.8 1690.4 L997.6 1690.2 L998.4 1689.6 L999.1 1689.6 L999.9 1689.2 L1000.7 1689.0 L1001.5 1689.4 L1002.3 1689.1 L1003.1 1689.1 L1003.8 1687.7 L1004.6 1689.0 L1005.4 1687.9 L1006.2 1687.7 L1007.0 1689.8 L1007.7 1688.6 L1008.5 1687.7 L1009.3 1689.0 L1010.1 1686.5 L1010.9 1685.2 L1011.6 1686.1 L1012.4 1688.1 L1013.2 1685.0 L1014.0 1684.1 L1014.8 1681.6 L1015.6 1682.1 L1016.3 1683.1 L1017.1 1682.4 L1017.9 1677.7 L1018.7 1681.1 L1019.5 1682.6 L1020.2 1679.6 L1021.0 1673.1 L1021.8 1678.3 L1022.6 1679.7 L1023.4 1676.5 L1024.1 1677.7 L1024.9 1671.7 L1025.7 1677.8 L1026.5 1667.9 L1027.3 1669.4 L1028.1 1664.1 L1028.8 1666.3 L1029.6 1665.9 L1030.4 1657.9 L1031.2 1659.1 L1032.0 1663.0 L1032.7 1659.6 L1033.5 1650.4 L1034.3 1653.8 L1035.1 1651.2 L1035.9 1648.8 L1036.6 1638.5 L1037.4 1655.2 L1038.2 1657.6 L1039.0 1648.3 L1039.8 1656.2 L1040.6 1652.5 L1041.3 1666.9 L1042.1 1677.9 L1042.9 1678.1 L1043.7 1667.4 L1044.5 1660.5 L1045.2 1669.8 L1046.0 1664.1 L1046.8 1668.1 L1047.6 1666.4 L1048.4 1657.8 L1049.1 1668.9 L1049.9 1667.9 L1050.7 1673.4 L1051.5 1674.7 L1052.3 1674.8 L1053.1 1673.3 L1053.8 1674.0 L1054.6 1674.3 L1055.4 1685.9 L1056.2 1677.3 L1057.0 1677.1 L1057.7 1678.3 L1058.5 1680.0 L1059.3 1677.6 L1060.1 1680.5 L1060.9 1679.3 L1061.6 1681.9 L1062.4 1673.5 L1063.2 1681.8 L1064.0 1681.2 L1064.8 1681.3 L1065.6 1681.8 L1066.3 1683.1 L1067.1 1683.9 L1067.9 1685.2 L1068.7 1685.9 L1069.5 1684.4 L1070.2 1687.0 L1071.0 1687.9 L1071.8 1684.6 L1072.6 1690.2 L1073.4 1688.7 L1074.1 1689.3 L1074.9 1688.9 L1075.7 1688.6 L1076.5 1689.6 L1077.3 1689.9 L1078.1 1689.8 L1078.8 1690.5 L1079.6 1690.3 L1080.4 1690.4 L1081.2 1691.0 L1082.0 1690.6 L1082.7 1690.7 L1083.5 1691.0 L1084.3 1691.5 L1085.1 1691.5 L1085.9 1691.1 L1086.6 1691.4 L1087.4 1691.6 L1088.2 1691.5 L1089.0 1691.8 L1089.8 1691.5 L1090.6 1691.7 L1091.3 1692.1" fill="none" stroke="#0072bd" stroke-width="1.0" stroke-linejoin="round"/>
<text x="835.90" y="1680.50" font-size="49.3" font-weight="bold" class="b">178.4Hz</text>
<text x="338.70" y="1770.15" font-size="67.1" text-anchor="middle">0</text>
<text y="1770.15" font-size="67.1"><tspan x="681.73" textLength="25.16" lengthAdjust="spacingAndGlyphs">1</tspan><tspan x="711.92">00</tspan></text>
<text x="1119.70" y="1770.15" font-size="67.1" text-anchor="middle">200</text>
<text y="1770.15" font-size="67.1"><tspan x="1461.58" textLength="31.20" lengthAdjust="spacingAndGlyphs">3</tspan><tspan x="1493.92">00</tspan></text>
<text x="1901.70" y="1770.15" font-size="67.1" text-anchor="middle">400</text>
<text x="2291.40" y="1770.15" font-size="67.1" text-anchor="middle">500</text>
<text y="1667.00" font-size="67.1"><tspan x="290.81" textLength="25.16" lengthAdjust="spacingAndGlyphs">1</tspan></text>
<text x="321.00" y="1715.20" font-size="67.1" text-anchor="end">0</text>
<text y="1623.30" font-size="67.1"><tspan x="341.40" y="1635.10" font-size="84" style="stroke:#fff;stroke-width:0.5px">×</tspan><tspan x="394.56" y="1623.30" textLength="25.16" lengthAdjust="spacingAndGlyphs">1</tspan><tspan x="424.75">0</tspan><tspan x="452.00" y="1592.30" font-size="51.5" class="k" style="stroke:none" textLength="31.37" lengthAdjust="spacingAndGlyphs">−</tspan><tspan x="481.85" y="1590.90" font-size="51.5" class="k" style="stroke:none" textLength="23.18" lengthAdjust="spacingAndGlyphs">3</tspan></text>
<text transform="translate(266.10 1774.90) rotate(-90)" font-size="73.8">BIMF1</text>
<rect x="339.00" y="1881.00" width="1953.10" height="54.90" fill="none" stroke="#111" stroke-width="1.9"/>
<path d="M729.00 1881.00v20.6M729.00 1935.90v-20.6M1120.00 1881.00v20.6M1120.00 1935.90v-20.6M1511.00 1881.00v20.6M1511.00 1935.90v-20.6M1902.00 1881.00v20.6M1902.00 1935.90v-20.6" fill="none" stroke="#111" stroke-width="1.8"/>
<path d="M338.10 1936.35H799.2M946.8 1936.35H2289.60" fill="none" stroke="#0072bd" stroke-width="1.25"/>
<path d="M799.2 1936.0 L799.9 1935.8 L800.7 1935.4 L801.5 1935.3 L802.3 1935.3 L803.1 1935.3 L803.8 1935.0 L804.6 1934.9 L805.4 1934.8 L806.2 1934.4 L807.0 1934.4 L807.7 1934.1 L808.5 1934.3 L809.3 1934.1 L810.1 1934.5 L810.9 1933.9 L811.7 1933.9 L812.4 1934.1 L813.2 1933.8 L814.0 1932.8 L814.8 1933.9 L815.6 1932.9 L816.3 1933.2 L817.1 1933.5 L817.9 1932.0 L818.7 1933.4 L819.5 1931.3 L820.2 1934.2 L821.0 1932.8 L821.8 1933.4 L822.6 1931.1 L823.4 1932.2 L824.2 1931.3 L824.9 1931.3 L825.7 1930.9 L826.5 1932.6 L827.3 1931.1 L828.1 1928.5 L828.8 1930.4 L829.6 1931.2 L830.4 1930.6 L831.2 1929.8 L832.0 1929.7 L832.7 1929.6 L833.5 1930.9 L834.3 1929.7 L835.1 1928.5 L835.9 1928.1 L836.6 1928.8 L837.4 1926.8 L838.2 1928.2 L839.0 1929.4 L839.8 1924.5 L840.6 1926.9 L841.3 1926.0 L842.1 1924.6 L842.9 1927.0 L843.7 1923.8 L844.5 1925.0 L845.2 1922.8 L846.0 1922.6 L846.8 1922.4 L847.6 1920.7 L848.4 1921.9 L849.1 1920.8 L849.9 1915.6 L850.7 1920.1 L851.5 1910.1 L852.3 1916.7 L853.1 1910.4 L853.8 1916.4 L854.6 1910.1 L855.4 1912.7 L856.2 1908.6 L857.0 1900.7 L857.7 1906.4 L858.5 1903.6 L859.3 1895.5 L860.1 1903.4 L860.9 1911.3 L861.6 1898.5 L862.4 1898.4 L863.2 1893.4 L864.0 1895.9 L864.8 1908.6 L865.6 1895.7 L866.3 1908.9 L867.1 1894.0 L867.9 1898.0 L868.7 1897.7 L869.5 1889.4 L870.2 1898.6 L871.0 1902.5 L871.8 1914.7 L872.6 1897.0 L873.4 1899.1 L874.1 1897.3 L874.9 1901.6 L875.7 1894.5 L876.5 1915.4 L877.3 1898.6 L878.1 1914.0 L878.8 1905.1 L879.6 1893.4 L880.4 1898.6 L881.2 1917.2 L882.0 1900.8 L882.7 1914.2 L883.5 1909.5 L884.3 1910.2 L885.1 1913.3 L885.9 1915.2 L886.6 1924.8 L887.4 1921.9 L888.2 1925.0 L889.0 1922.5 L889.8 1922.1 L890.6 1924.7 L891.3 1922.7 L892.1 1925.2 L892.9 1925.7 L893.7 1928.0 L894.5 1927.6 L895.2 1928.9 L896.0 1929.6 L896.8 1926.8 L897.6 1931.0 L898.4 1930.9 L899.1 1931.8 L899.9 1933.8 L900.7 1930.7 L901.5 1931.2 L902.3 1931.7 L903.1 1933.3 L903.8 1933.7 L904.6 1932.8 L905.4 1933.6 L906.2 1933.0 L907.0 1931.9 L907.7 1933.6 L908.5 1933.0 L909.3 1932.8 L910.1 1933.3 L910.9 1933.8 L911.6 1933.8 L912.4 1934.1 L913.2 1933.5 L914.0 1933.2 L914.8 1933.5 L915.6 1934.1 L916.3 1934.1 L917.1 1933.6 L917.9 1933.5 L918.7 1933.8 L919.5 1935.1 L920.2 1934.4 L921.0 1934.0 L921.8 1934.4 L922.6 1934.4 L923.4 1934.3 L924.1 1935.0 L924.9 1934.2 L925.7 1935.3 L926.5 1935.1 L927.3 1934.7 L928.1 1934.6 L928.8 1934.8 L929.6 1934.4 L930.4 1934.9 L931.2 1935.2 L932.0 1935.1 L932.7 1935.2 L933.5 1935.1 L934.3 1935.2 L935.1 1935.2 L935.9 1934.1 L936.6 1935.4 L937.4 1935.1 L938.2 1935.1 L939.0 1935.2 L939.8 1935.3 L940.6 1935.4 L941.3 1935.3 L942.1 1935.1 L942.9 1935.2 L943.7 1935.6 L944.5 1935.6 L945.2 1935.3 L946.0 1935.7 L946.8 1936.2" fill="none" stroke="#0072bd" stroke-width="1.0" stroke-linejoin="round"/>
<text x="908.80" y="1924.40" font-size="49.3" font-weight="bold" class="b">135.6Hz</text>
<text x="338.70" y="2013.43" font-size="67.1" text-anchor="middle">0</text>
<text y="2013.43" font-size="67.1"><tspan x="681.73" textLength="25.16" lengthAdjust="spacingAndGlyphs">1</tspan><tspan x="711.92">00</tspan></text>
<text x="1119.70" y="2013.43" font-size="67.1" text-anchor="middle">200</text>
<text y="2013.43" font-size="67.1"><tspan x="1461.58" textLength="31.20" lengthAdjust="spacingAndGlyphs">3</tspan><tspan x="1493.92">00</tspan></text>
<text x="1901.70" y="2013.43" font-size="67.1" text-anchor="middle">400</text>
<text x="2291.40" y="2013.43" font-size="67.1" text-anchor="middle">500</text>
<text x="321.00" y="1904.00" font-size="67.1" text-anchor="end">5</text>
<text x="321.00" y="1959.10" font-size="67.1" text-anchor="end">0</text>
<text y="1866.30" font-size="67.1"><tspan x="341.40" y="1878.10" font-size="84" style="stroke:#fff;stroke-width:0.5px">×</tspan><tspan x="394.56" y="1866.30" textLength="25.16" lengthAdjust="spacingAndGlyphs">1</tspan><tspan x="424.75">0</tspan><tspan x="452.00" y="1837.80" font-size="51.5" class="k" style="stroke:none" textLength="31.37" lengthAdjust="spacingAndGlyphs">−</tspan><tspan x="481.85" y="1836.40" font-size="51.5" class="k" style="stroke:none" textLength="23.18" lengthAdjust="spacingAndGlyphs">4</tspan></text>
<text transform="translate(266.10 2018.35) rotate(-90)" font-size="73.8">BIMF2</text>
<rect x="339.00" y="2124.10" width="1953.10" height="54.90" fill="none" stroke="#111" stroke-width="1.9"/>
<path d="M729.00 2124.10v20.6M729.00 2179.00v-20.6M1120.00 2124.10v20.6M1120.00 2179.00v-20.6M1511.00 2124.10v20.6M1511.00 2179.00v-20.6M1902.00 2124.10v20.6M1902.00 2179.00v-20.6M339.00 2134.00h20.0M2292.10 2134.00h-20.0M339.00 2156.90h20.0M2292.10 2156.90h-20.0" fill="none" stroke="#111" stroke-width="1.8"/>
<path d="M338.10 2179.45H583.5M805.2 2179.45H2289.60" fill="none" stroke="#0072bd" stroke-width="1.25"/>
<path d="M583.5 2179.0 L584.0 2179.0 L584.5 2178.8 L585.0 2178.9 L585.5 2178.8 L586.0 2178.7 L586.5 2178.7 L586.9 2178.4 L587.4 2178.7 L587.9 2178.6 L588.4 2178.9 L588.9 2178.5 L589.4 2178.3 L589.9 2178.9 L590.4 2178.7 L590.9 2178.5 L591.3 2178.8 L591.8 2178.9 L592.3 2178.6 L592.8 2178.2 L593.3 2178.4 L593.8 2178.6 L594.3 2178.3 L594.8 2178.5 L595.2 2178.5 L595.7 2178.6 L596.2 2178.4 L596.7 2178.6 L597.2 2178.0 L597.7 2178.3 L598.2 2178.2 L598.7 2178.8 L599.2 2178.1 L599.6 2178.2 L600.1 2178.0 L600.6 2177.7 L601.1 2177.9 L601.6 2177.9 L602.1 2178.2 L602.6 2177.7 L603.1 2178.3 L603.5 2178.3 L604.0 2178.0 L604.5 2177.9 L605.0 2178.5 L605.5 2177.9 L606.0 2178.0 L606.5 2178.1 L607.0 2178.2 L607.5 2178.6 L607.9 2178.1 L608.4 2177.6 L608.9 2178.2 L609.4 2178.3 L609.9 2177.7 L610.4 2178.7 L610.9 2177.9 L611.4 2178.3 L611.8 2177.2 L612.3 2177.9 L612.8 2177.0 L613.3 2178.7 L613.8 2177.7 L614.3 2178.0 L614.8 2177.8 L615.3 2177.7 L615.8 2177.2 L616.2 2177.3 L616.7 2178.2 L617.2 2177.8 L617.7 2178.2 L618.2 2177.2 L618.7 2178.0 L619.2 2177.3 L619.7 2177.8 L620.1 2177.8 L620.6 2177.7 L621.1 2177.6 L621.6 2177.4 L622.1 2176.7 L622.6 2177.3 L623.1 2176.9 L623.6 2176.8 L624.1 2177.2 L624.5 2177.6 L625.0 2176.9 L625.5 2177.4 L626.0 2177.4 L626.5 2177.8 L627.0 2177.1 L627.5 2177.3 L628.0 2176.2 L628.4 2176.3 L628.9 2176.5 L629.4 2176.9 L629.9 2175.5 L630.4 2176.9 L630.9 2175.4 L631.4 2176.1 L631.9 2175.4 L632.4 2176.1 L632.8 2176.2 L633.3 2177.4 L633.8 2176.9 L634.3 2177.1 L634.8 2176.7 L635.3 2177.1 L635.8 2176.7 L636.3 2176.8 L636.8 2176.1 L637.2 2175.0 L637.7 2175.9 L638.2 2177.0 L638.7 2176.0 L639.2 2175.2 L639.7 2173.9 L640.2 2174.8 L640.7 2174.7 L641.1 2175.6 L641.6 2172.9 L642.1 2175.2 L642.6 2175.0 L643.1 2176.3 L643.6 2173.5 L644.1 2175.7 L644.6 2175.3 L645.1 2173.7 L645.5 2174.2 L646.0 2174.1 L646.5 2173.7 L647.0 2172.8 L647.5 2172.7 L648.0 2172.5 L648.5 2172.4 L649.0 2175.1 L649.4 2172.8 L649.9 2174.1 L650.4 2170.6 L650.9 2173.2 L651.4 2172.3 L651.9 2170.5 L652.4 2175.5 L652.9 2170.9 L653.4 2174.4 L653.8 2169.5 L654.3 2174.2 L654.8 2166.2 L655.3 2170.5 L655.8 2171.6 L656.3 2171.6 L656.8 2169.6 L657.3 2170.4 L657.7 2167.4 L658.2 2171.4 L658.7 2169.5 L659.2 2167.2 L659.7 2169.0 L660.2 2166.7 L660.7 2168.3 L661.2 2169.6 L661.7 2164.9 L662.1 2168.3 L662.6 2166.4 L663.1 2169.4 L663.6 2171.1 L664.1 2163.2 L664.6 2167.6 L665.1 2164.9 L665.6 2168.6 L666.0 2164.0 L666.5 2162.1 L667.0 2169.5 L667.5 2164.5 L668.0 2167.2 L668.5 2165.5 L669.0 2164.9 L669.5 2155.2 L670.0 2163.0 L670.4 2164.7 L670.9 2167.3 L671.4 2163.3 L671.9 2156.4 L672.4 2158.9 L672.9 2156.0 L673.4 2160.2 L673.9 2163.8 L674.3 2160.4 L674.8 2156.3 L675.3 2160.1 L675.8 2155.2 L676.3 2166.2 L676.8 2163.8 L677.3 2151.8 L677.8 2156.5 L678.3 2155.9 L678.7 2162.3 L679.2 2161.4 L679.7 2136.4 L680.2 2159.2 L680.7 2154.0 L681.2 2156.3 L681.7 2146.1 L682.2 2157.0 L682.6 2158.9 L683.1 2154.9 L683.6 2146.7 L684.1 2155.7 L684.6 2156.3 L685.1 2149.0 L685.6 2154.0 L686.1 2144.0 L686.6 2142.2 L687.0 2137.6 L687.5 2138.2 L688.0 2135.9 L688.5 2144.7 L689.0 2148.7 L689.5 2146.2 L690.0 2145.7 L690.5 2146.2 L690.9 2146.1 L691.4 2152.3 L691.9 2138.7 L692.4 2159.4 L692.9 2135.7 L693.4 2133.6 L693.9 2135.1 L694.4 2135.1 L694.9 2135.3 L695.3 2144.0 L695.8 2125.4 L696.3 2131.9 L696.8 2133.6 L697.3 2132.8 L697.8 2139.5 L698.3 2136.5 L698.8 2145.1 L699.2 2156.6 L699.7 2142.8 L700.2 2152.9 L700.7 2151.9 L701.2 2150.0 L701.7 2135.3 L702.2 2136.6 L702.7 2132.3 L703.2 2139.3 L703.6 2163.9 L704.1 2158.0 L704.6 2160.6 L705.1 2137.2 L705.6 2148.7 L706.1 2151.5 L706.6 2153.4 L707.1 2150.5 L707.5 2150.9 L708.0 2152.0 L708.5 2135.6 L709.0 2160.4 L709.5 2150.1 L710.0 2153.7 L710.5 2137.3 L711.0 2150.2 L711.5 2155.5 L711.9 2149.4 L712.4 2160.2 L712.9 2150.2 L713.4 2161.4 L713.9 2145.1 L714.4 2134.4 L714.9 2153.2 L715.4 2156.8 L715.9 2160.0 L716.3 2158.9 L716.8 2155.7 L717.3 2162.1 L717.8 2157.9 L718.3 2148.6 L718.8 2163.1 L719.3 2152.6 L719.8 2159.2 L720.2 2159.4 L720.7 2160.0 L721.2 2156.5 L721.7 2152.3 L722.2 2160.3 L722.7 2161.2 L723.2 2161.4 L723.7 2172.1 L724.2 2166.8 L724.6 2169.2 L725.1 2162.7 L725.6 2169.3 L726.1 2166.7 L726.6 2155.5 L727.1 2166.2 L727.6 2161.7 L728.1 2161.5 L728.5 2158.8 L729.0 2159.5 L729.5 2173.8 L730.0 2167.9 L730.5 2166.7 L731.0 2159.3 L731.5 2165.0 L732.0 2167.8 L732.5 2171.1 L732.9 2171.3 L733.4 2167.6 L733.9 2167.8 L734.4 2172.3 L734.9 2175.0 L735.4 2173.4 L735.9 2169.1 L736.4 2172.9 L736.8 2171.7 L737.3 2169.3 L737.8 2172.1 L738.3 2174.1 L738.8 2172.0 L739.3 2171.9 L739.8 2172.3 L740.3 2171.6 L740.8 2170.7 L741.2 2173.0 L741.7 2167.9 L742.2 2168.6 L742.7 2172.5 L743.2 2173.1 L743.7 2172.4 L744.2 2170.9 L744.7 2171.5 L745.1 2176.3 L745.6 2173.7 L746.1 2172.4 L746.6 2174.1 L747.1 2174.8 L747.6 2174.7 L748.1 2176.5 L748.6 2173.6 L749.1 2173.3 L749.5 2172.8 L750.0 2175.3 L750.5 2172.4 L751.0 2175.5 L751.5 2172.4 L752.0 2174.7 L752.5 2176.6 L753.0 2174.4 L753.4 2176.2 L753.9 2174.9 L754.4 2173.1 L754.9 2176.7 L755.4 2176.5 L755.9 2176.0 L756.4 2174.9 L756.9 2177.2 L757.4 2175.9 L757.8 2176.3 L758.3 2176.5 L758.8 2176.4 L759.3 2175.2 L759.8 2175.7 L760.3 2175.2 L760.8 2175.8 L761.3 2176.6 L761.7 2175.7 L762.2 2175.7 L762.7 2177.1 L763.2 2177.3 L763.7 2175.8 L764.2 2177.1 L764.7 2176.8 L765.2 2177.8 L765.7 2176.8 L766.1 2177.0 L766.6 2177.6 L767.1 2177.5 L767.6 2176.4 L768.1 2177.5 L768.6 2178.1 L769.1 2177.2 L769.6 2177.3 L770.0 2176.6 L770.5 2177.2 L771.0 2178.5 L771.5 2178.1 L772.0 2177.1 L772.5 2178.1 L773.0 2177.6 L773.5 2177.5 L774.0 2176.5 L774.4 2177.8 L774.9 2177.6 L775.4 2177.1 L775.9 2177.3 L776.4 2178.1 L776.9 2177.3 L777.4 2178.0 L777.9 2177.5 L778.3 2177.3 L778.8 2178.3 L779.3 2177.6 L779.8 2178.2 L780.3 2177.9 L780.8 2178.6 L781.3 2178.2 L781.8 2177.7 L782.3 2177.7 L782.7 2178.2 L783.2 2177.8 L783.7 2178.2 L784.2 2178.1 L784.7 2178.2 L785.2 2178.3 L785.7 2178.1 L786.2 2178.1 L786.7 2177.8 L787.1 2178.5 L787.6 2178.5 L788.1 2178.2 L788.6 2178.4 L789.1 2178.5 L789.6 2177.9 L790.1 2178.8 L790.6 2178.5 L791.0 2178.6 L791.5 2178.3 L792.0 2178.5 L792.5 2178.5 L793.0 2178.8 L793.5 2178.7 L794.0 2178.5 L794.5 2178.7 L795.0 2178.4 L795.4 2178.8 L795.9 2178.4 L796.4 2178.7 L796.9 2179.1 L797.4 2178.5 L797.9 2178.8 L798.4 2178.7 L798.9 2179.2 L799.3 2178.9 L799.8 2178.9 L800.3 2178.5 L800.8 2178.6 L801.3 2179.0 L801.8 2178.7 L802.3 2178.8 L802.8 2179.1 L803.3 2178.8 L803.7 2178.9 L804.2 2179.1 L804.7 2179.0 L805.2 2179.2" fill="none" stroke="#0072bd" stroke-width="1.0" stroke-linejoin="round"/>
<text x="765.00" y="2165.50" font-size="49.3" font-weight="bold" class="b">91.4Hz</text>
<text x="338.70" y="2256.71" font-size="67.1" text-anchor="middle">0</text>
<text y="2256.71" font-size="67.1"><tspan x="681.73" textLength="25.16" lengthAdjust="spacingAndGlyphs">1</tspan><tspan x="711.92">00</tspan></text>
<text x="1119.70" y="2256.71" font-size="67.1" text-anchor="middle">200</text>
<text y="2256.71" font-size="67.1"><tspan x="1461.58" textLength="31.20" lengthAdjust="spacingAndGlyphs">3</tspan><tspan x="1493.92">00</tspan></text>
<text x="1901.70" y="2256.71" font-size="67.1" text-anchor="middle">400</text>
<text x="2291.40" y="2256.71" font-size="67.1" text-anchor="middle">500</text>
<text x="321.00" y="2157.00" font-size="67.1" text-anchor="end">2</text>
<text x="321.00" y="2202.20" font-size="67.1" text-anchor="end">0</text>
<text y="2109.40" font-size="67.1"><tspan x="341.40" y="2121.20" font-size="84" style="stroke:#fff;stroke-width:0.5px">×</tspan><tspan x="394.56" y="2109.40" textLength="25.16" lengthAdjust="spacingAndGlyphs">1</tspan><tspan x="424.75">0</tspan><tspan x="452.00" y="2076.90" font-size="51.5" class="k" style="stroke:none" textLength="31.37" lengthAdjust="spacingAndGlyphs">−</tspan><tspan x="481.85" y="2075.50" font-size="51.5" class="k" style="stroke:none" textLength="23.18" lengthAdjust="spacingAndGlyphs">4</tspan></text>
<text transform="translate(266.10 2261.45) rotate(-90)" font-size="73.8">BIMF3</text>
<rect x="339.00" y="2367.10" width="1953.10" height="54.90" fill="none" stroke="#111" stroke-width="1.9"/>
<path d="M729.00 2367.10v20.6M729.00 2422.00v-20.6M1120.00 2367.10v20.6M1120.00 2422.00v-20.6M1511.00 2367.10v20.6M1511.00 2422.00v-20.6M1902.00 2367.10v20.6M1902.00 2422.00v-20.6" fill="none" stroke="#111" stroke-width="1.8"/>
<path d="M338.10 2422.45H412.8M642.5 2422.45H2289.60" fill="none" stroke="#0072bd" stroke-width="1.25"/>
<path d="M412.8 2422.1 L413.6 2422.2 L414.4 2421.8 L415.2 2421.5 L416.0 2422.1 L416.7 2421.7 L417.5 2422.0 L418.3 2421.8 L419.1 2421.9 L419.9 2421.6 L420.6 2421.5 L421.4 2421.5 L422.2 2422.1 L423.0 2421.8 L423.8 2421.8 L424.5 2421.6 L425.3 2421.9 L426.1 2421.8 L426.9 2421.6 L427.7 2422.0 L428.5 2421.5 L429.2 2421.6 L430.0 2421.8 L430.8 2421.9 L431.6 2421.8 L432.4 2421.7 L433.1 2421.9 L433.9 2421.8 L434.7 2421.5 L435.5 2421.7 L436.3 2421.8 L437.0 2420.8 L437.8 2421.4 L438.6 2421.6 L439.4 2422.0 L440.2 2421.6 L441.0 2422.1 L441.7 2421.7 L442.5 2421.6 L443.3 2421.6 L444.1 2421.4 L444.9 2421.5 L445.6 2421.4 L446.4 2421.4 L447.2 2421.4 L448.0 2421.6 L448.8 2421.5 L449.5 2421.6 L450.3 2421.5 L451.1 2421.7 L451.9 2421.2 L452.7 2421.4 L453.5 2421.8 L454.2 2421.3 L455.0 2421.6 L455.8 2421.4 L456.6 2421.3 L457.4 2421.6 L458.1 2421.2 L458.9 2421.4 L459.7 2420.7 L460.5 2421.3 L461.3 2421.2 L462.0 2421.4 L462.8 2420.8 L463.6 2421.1 L464.4 2421.3 L465.2 2421.0 L466.0 2421.2 L466.7 2421.4 L467.5 2421.1 L468.3 2421.0 L469.1 2421.5 L469.9 2421.5 L470.6 2421.0 L471.4 2421.3 L472.2 2421.4 L473.0 2421.3 L473.8 2421.2 L474.5 2421.6 L475.3 2421.2 L476.1 2421.4 L476.9 2421.4 L477.7 2421.3 L478.5 2421.2 L479.2 2421.1 L480.0 2420.7 L480.8 2421.1 L481.6 2421.3 L482.4 2421.3 L483.1 2421.1 L483.9 2421.0 L484.7 2420.9 L485.5 2419.8 L486.3 2420.7 L487.0 2421.0 L487.8 2421.0 L488.6 2420.7 L489.4 2420.9 L490.2 2420.9 L491.0 2420.4 L491.7 2420.3 L492.5 2420.6 L493.3 2420.1 L494.1 2420.7 L494.9 2419.6 L495.6 2420.6 L496.4 2420.2 L497.2 2419.4 L498.0 2419.5 L498.8 2419.3 L499.5 2420.6 L500.3 2420.9 L501.1 2419.8 L501.9 2420.1 L502.7 2420.3 L503.5 2419.7 L504.2 2419.2 L505.0 2419.8 L505.8 2421.3 L506.6 2419.8 L507.4 2419.4 L508.1 2419.6 L508.9 2419.5 L509.7 2419.1 L510.5 2419.8 L511.3 2419.3 L512.0 2418.8 L512.8 2418.1 L513.6 2418.1 L514.4 2418.1 L515.2 2417.0 L516.0 2418.5 L516.7 2417.0 L517.5 2417.4 L518.3 2416.7 L519.1 2416.5 L519.9 2415.4 L520.6 2414.6 L521.4 2414.7 L522.2 2417.2 L523.0 2416.7 L523.8 2416.5 L524.5 2413.4 L525.3 2416.4 L526.1 2416.0 L526.9 2414.8 L527.7 2415.1 L528.5 2413.2 L529.2 2411.2 L530.0 2415.5 L530.8 2413.9 L531.6 2414.3 L532.4 2412.2 L533.1 2413.5 L533.9 2413.8 L534.7 2413.2 L535.5 2413.9 L536.3 2411.2 L537.0 2412.2 L537.8 2410.4 L538.6 2411.9 L539.4 2407.6 L540.2 2410.6 L541.0 2403.6 L541.7 2403.9 L542.5 2410.2 L543.3 2406.6 L544.1 2404.3 L544.9 2400.1 L545.6 2403.8 L546.4 2408.8 L547.2 2400.8 L548.0 2402.6 L548.8 2404.3 L549.5 2402.0 L550.3 2404.9 L551.1 2395.3 L551.9 2395.2 L552.7 2389.9 L553.5 2382.1 L554.2 2385.9 L555.0 2388.4 L555.8 2388.0 L556.6 2384.4 L557.4 2381.3 L558.1 2384.5 L558.9 2372.4 L559.7 2384.1 L560.5 2382.0 L561.3 2382.6 L562.0 2385.0 L562.8 2381.9 L563.6 2382.4 L564.4 2391.5 L565.2 2397.5 L566.0 2391.7 L566.7 2382.4 L567.5 2384.0 L568.3 2384.6 L569.1 2384.4 L569.9 2389.8 L570.6 2389.8 L571.4 2393.5 L572.2 2395.4 L573.0 2394.8 L573.8 2396.5 L574.5 2399.4 L575.3 2400.2 L576.1 2401.7 L576.9 2404.1 L577.7 2406.0 L578.5 2408.7 L579.2 2406.8 L580.0 2409.3 L580.8 2410.2 L581.6 2409.1 L582.4 2408.9 L583.1 2410.2 L583.9 2414.7 L584.7 2411.2 L585.5 2412.0 L586.3 2407.5 L587.0 2412.7 L587.8 2413.2 L588.6 2412.0 L589.4 2413.1 L590.2 2413.0 L590.9 2412.5 L591.7 2415.1 L592.5 2415.6 L593.3 2413.5 L594.1 2413.8 L594.9 2415.0 L595.6 2413.3 L596.4 2414.5 L597.2 2414.7 L598.0 2415.2 L598.8 2414.4 L599.5 2416.3 L600.3 2414.3 L601.1 2416.5 L601.9 2414.8 L602.7 2416.1 L603.4 2416.5 L604.2 2416.8 L605.0 2417.4 L605.8 2418.1 L606.6 2419.7 L607.4 2418.1 L608.1 2417.5 L608.9 2418.6 L609.7 2419.4 L610.5 2419.6 L611.3 2419.4 L612.0 2418.9 L612.8 2418.9 L613.6 2419.1 L614.4 2419.9 L615.2 2418.9 L615.9 2419.1 L616.7 2419.7 L617.5 2420.5 L618.3 2420.4 L619.1 2420.3 L619.9 2420.0 L620.6 2420.3 L621.4 2420.8 L622.2 2420.5 L623.0 2421.5 L623.8 2420.8 L624.5 2420.7 L625.3 2421.5 L626.1 2421.2 L626.9 2420.9 L627.7 2420.6 L628.4 2420.7 L629.2 2421.3 L630.0 2421.2 L630.8 2421.1 L631.6 2421.3 L632.4 2421.2 L633.1 2421.9 L633.9 2421.7 L634.7 2421.5 L635.5 2421.4 L636.3 2421.6 L637.0 2421.4 L637.8 2421.6 L638.6 2421.9 L639.4 2421.4 L640.2 2421.7 L640.9 2421.9 L641.7 2421.8 L642.5 2422.0" fill="none" stroke="#0072bd" stroke-width="1.0" stroke-linejoin="round"/>
<text x="369.25" y="2412.30" font-size="49.3" font-weight="bold" class="b">56.6Hz</text>
<text x="338.70" y="2499.99" font-size="67.1" text-anchor="middle">0</text>
<text y="2499.99" font-size="67.1"><tspan x="681.73" textLength="25.16" lengthAdjust="spacingAndGlyphs">1</tspan><tspan x="711.92">00</tspan></text>
<text x="1119.70" y="2499.99" font-size="67.1" text-anchor="middle">200</text>
<text y="2499.99" font-size="67.1"><tspan x="1461.58" textLength="31.20" lengthAdjust="spacingAndGlyphs">3</tspan><tspan x="1493.92">00</tspan></text>
<text x="1901.70" y="2499.99" font-size="67.1" text-anchor="middle">400</text>
<text x="2291.40" y="2499.99" font-size="67.1" text-anchor="middle">500</text>
<text x="321.00" y="2390.10" font-size="67.1" text-anchor="end">5</text>
<text x="321.00" y="2445.20" font-size="67.1" text-anchor="end">0</text>
<text y="2352.40" font-size="67.1"><tspan x="341.40" y="2364.20" font-size="84" style="stroke:#fff;stroke-width:0.5px">×</tspan><tspan x="394.56" y="2352.40" textLength="25.16" lengthAdjust="spacingAndGlyphs">1</tspan><tspan x="424.75">0</tspan><tspan x="452.00" y="2319.20" font-size="51.5" class="k" style="stroke:none" textLength="31.37" lengthAdjust="spacingAndGlyphs">−</tspan><tspan x="481.85" y="2317.80" font-size="51.5" class="k" style="stroke:none" textLength="23.18" lengthAdjust="spacingAndGlyphs">4</tspan></text>
<text transform="translate(266.10 2504.45) rotate(-90)" font-size="73.8">BIMF4</text>
<rect x="339.00" y="2611.10" width="1953.10" height="54.90" fill="none" stroke="#111" stroke-width="1.9"/>
<path d="M729.00 2611.10v20.6M729.00 2666.00v-20.6M1120.00 2611.10v20.6M1120.00 2666.00v-20.6M1511.00 2611.10v20.6M1511.00 2666.00v-20.6M1902.00 2611.10v20.6M1902.00 2666.00v-20.6" fill="none" stroke="#111" stroke-width="1.8"/>
<path d="M338.10 2665.55H339.4M471.4 2665.55H2289.60" fill="none" stroke="#0072bd" stroke-width="1.25"/>
<path d="M339.4 2665.4 L340.2 2664.1 L341.0 2662.6 L341.7 2663.1 L342.5 2663.7 L343.3 2664.4 L344.1 2663.8 L344.9 2662.7 L345.6 2662.4 L346.4 2661.9 L347.2 2662.4 L348.0 2662.1 L348.8 2660.3 L349.5 2664.0 L350.3 2660.8 L351.1 2661.7 L351.9 2661.1 L352.7 2662.9 L353.5 2661.4 L354.2 2661.1 L355.0 2659.6 L355.8 2661.7 L356.6 2661.0 L357.4 2662.1 L358.1 2660.9 L358.9 2660.4 L359.7 2659.8 L360.5 2658.3 L361.3 2660.7 L362.0 2659.0 L362.8 2661.9 L363.6 2658.3 L364.4 2658.4 L365.2 2656.0 L366.0 2659.0 L366.7 2659.7 L367.5 2657.5 L368.3 2658.1 L369.1 2655.7 L369.9 2658.3 L370.6 2658.4 L371.4 2652.5 L372.2 2654.7 L373.0 2654.4 L373.8 2650.1 L374.5 2657.3 L375.3 2658.7 L376.1 2651.7 L376.9 2647.1 L377.7 2641.7 L378.5 2644.7 L379.2 2651.8 L380.0 2644.2 L380.8 2645.0 L381.6 2654.5 L382.4 2639.1 L383.1 2631.7 L383.9 2632.7 L384.7 2635.9 L385.5 2631.8 L386.3 2618.6 L387.0 2630.5 L387.8 2633.8 L388.6 2625.9 L389.4 2626.0 L390.2 2624.8 L391.0 2627.2 L391.7 2641.8 L392.5 2643.1 L393.3 2638.8 L394.1 2644.3 L394.9 2642.0 L395.6 2638.5 L396.4 2635.7 L397.2 2633.5 L398.0 2637.7 L398.8 2633.3 L399.5 2637.9 L400.3 2637.6 L401.1 2626.9 L401.9 2635.5 L402.7 2636.7 L403.5 2642.9 L404.2 2629.4 L405.0 2638.3 L405.8 2639.5 L406.6 2633.6 L407.4 2640.0 L408.1 2646.5 L408.9 2642.9 L409.7 2646.1 L410.5 2650.9 L411.3 2651.1 L412.0 2652.9 L412.8 2656.4 L413.6 2657.1 L414.4 2655.3 L415.2 2657.7 L416.0 2656.4 L416.7 2658.5 L417.5 2656.3 L418.3 2659.9 L419.1 2658.5 L419.9 2658.9 L420.6 2656.8 L421.4 2659.3 L422.2 2661.8 L423.0 2660.7 L423.8 2661.5 L424.5 2661.4 L425.3 2663.0 L426.1 2662.1 L426.9 2661.0 L427.7 2663.0 L428.5 2662.9 L429.2 2662.4 L430.0 2661.7 L430.8 2662.0 L431.6 2662.7 L432.4 2662.6 L433.1 2663.5 L433.9 2662.5 L434.7 2663.0 L435.5 2663.9 L436.3 2663.3 L437.0 2663.7 L437.8 2664.0 L438.6 2663.4 L439.4 2663.3 L440.2 2663.9 L441.0 2663.8 L441.7 2663.2 L442.5 2663.6 L443.3 2663.9 L444.1 2663.9 L444.9 2663.6 L445.6 2663.5 L446.4 2664.4 L447.2 2663.9 L448.0 2664.1 L448.8 2664.1 L449.5 2664.1 L450.3 2664.2 L451.1 2664.5 L451.9 2664.7 L452.7 2664.3 L453.5 2664.1 L454.2 2664.3 L455.0 2664.7 L455.8 2664.4 L456.6 2664.1 L457.4 2665.1 L458.1 2664.5 L458.9 2664.5 L459.7 2664.5 L460.5 2665.0 L461.3 2665.1 L462.0 2664.7 L462.8 2664.5 L463.6 2664.9 L464.4 2664.8 L465.2 2664.8 L466.0 2664.9 L466.7 2664.7 L467.5 2664.6 L468.3 2665.0 L469.1 2665.1 L469.9 2664.8 L470.6 2664.5 L471.4 2664.7" fill="none" stroke="#0072bd" stroke-width="1.0" stroke-linejoin="round"/>
<text x="422.25" y="2653.40" font-size="49.3" font-weight="bold" class="b">11.8Hz</text>
<text x="338.70" y="2743.27" font-size="67.1" text-anchor="middle">0</text>
<text y="2743.27" font-size="67.1"><tspan x="681.73" textLength="25.16" lengthAdjust="spacingAndGlyphs">1</tspan><tspan x="711.92">00</tspan></text>
<text x="1119.70" y="2743.27" font-size="67.1" text-anchor="middle">200</text>
<text y="2743.27" font-size="67.1"><tspan x="1461.58" textLength="31.20" lengthAdjust="spacingAndGlyphs">3</tspan><tspan x="1493.92">00</tspan></text>
<text x="1901.70" y="2743.27" font-size="67.1" text-anchor="middle">400</text>
<text x="2291.40" y="2743.27" font-size="67.1" text-anchor="middle">500</text>
<text x="321.00" y="2634.10" font-size="67.1" text-anchor="end">5</text>
<text x="321.00" y="2689.20" font-size="67.1" text-anchor="end">0</text>
<text y="2596.40" font-size="67.1"><tspan x="341.40" y="2608.20" font-size="84" style="stroke:#fff;stroke-width:0.5px">×</tspan><tspan x="394.56" y="2596.40" textLength="25.16" lengthAdjust="spacingAndGlyphs">1</tspan><tspan x="424.75">0</tspan><tspan x="452.00" y="2563.90" font-size="51.5" class="k" style="stroke:none" textLength="31.37" lengthAdjust="spacingAndGlyphs">−</tspan><tspan x="481.85" y="2562.50" font-size="51.5" class="k" style="stroke:none" textLength="23.18" lengthAdjust="spacingAndGlyphs">4</tspan></text>
<text transform="translate(266.10 2748.45) rotate(-90)" font-size="73.8">BIMF5</text>
<text x="864.57" y="1613.30" font-size="73.8" class="k">Marginal Spectrum of Vehicle</text>
<text transform="translate(96.60 2309.86) rotate(-90)" font-size="73.8">Amplitude</text>
<text x="1091.09" y="2827.20" font-size="73.8">Frequency(Hz)</text>
<text y="2961.90" font-size="85" class="k"><tspan x="1201.70">(</tspan><tspan x="1231.10" font-weight="bold">b</tspan><tspan x="1279.95">)</tspan></text>
</g>
<g id="panel-c">
<rect x="369.96" y="3163.00" width="1922.14" height="54.00" fill="none" stroke="#111" stroke-width="1.9"/>
<path d="M754.80 3163.00v20.6M754.80 3217.00v-20.6M1139.00 3163.00v20.6M1139.00 3217.00v-20.6M1523.40 3163.00v20.6M1523.40 3217.00v-20.6M1907.80 3163.00v20.6M1907.80 3217.00v-20.6M369.96 3164.00h20.0M2292.10 3164.00h-20.0" fill="none" stroke="#111" stroke-width="1.8"/>
<path d="M369.06 3217.45H939.4M1116.5 3217.45H2289.60" fill="none" stroke="#0072bd" stroke-width="1.25"/>
<path d="M939.4 3217.3 L946.8 3196.1 L956.5 3205.5 L968.9 3206.4 L977.2 3195.5 L985.2 3163.0 L993.1 3163.0 L999.9 3208.5 L1007.3 3211.7 L1016.2 3209.4 L1025.0 3209.4 L1030.9 3212.3 L1045.7 3213.8 L1057.5 3216.2 L1075.2 3217.0 L1116.5 3216.8" fill="none" stroke="#0072bd" stroke-width="0.95" stroke-linejoin="round"/>
<text x="806.50" y="3207.60" font-size="48.8" font-weight="bold" class="b">162Hz</text>
<text x="369.66" y="3295.15" font-size="67.1" text-anchor="middle">0</text>
<text y="3295.15" font-size="67.1"><tspan x="707.53" textLength="25.16" lengthAdjust="spacingAndGlyphs">1</tspan><tspan x="737.72">00</tspan></text>
<text x="1138.70" y="3295.15" font-size="67.1" text-anchor="middle">200</text>
<text y="3295.15" font-size="67.1"><tspan x="1473.98" textLength="31.20" lengthAdjust="spacingAndGlyphs">3</tspan><tspan x="1506.33">00</tspan></text>
<text x="1907.50" y="3295.15" font-size="67.1" text-anchor="middle">400</text>
<text x="2291.40" y="3295.15" font-size="67.1" text-anchor="middle">500</text>
<text x="351.96" y="3186.00" font-size="67.1" text-anchor="end">2</text>
<text x="351.96" y="3240.20" font-size="67.1" text-anchor="end">0</text>
<text y="3148.30" font-size="67.1"><tspan x="372.36" y="3160.10" font-size="84" style="stroke:#fff;stroke-width:0.5px">×</tspan><tspan x="425.51" y="3148.30" textLength="25.16" lengthAdjust="spacingAndGlyphs">1</tspan><tspan x="455.71">0</tspan><tspan x="476.96" y="3118.00" font-size="51.5" class="k" style="stroke:none" textLength="31.37" lengthAdjust="spacingAndGlyphs">−</tspan><tspan x="506.81" y="3116.60" font-size="51.5" class="k" style="stroke:none" textLength="23.18" lengthAdjust="spacingAndGlyphs">4</tspan></text>
<text transform="translate(297.06 3299.90) rotate(-90)" font-size="73.8">BIMF1</text>
<rect x="369.96" y="3406.00" width="1922.14" height="54.90" fill="none" stroke="#111" stroke-width="1.9"/>
<path d="M754.80 3406.00v20.6M754.80 3460.90v-20.6M1139.00 3406.00v20.6M1139.00 3460.90v-20.6M1523.40 3406.00v20.6M1523.40 3460.90v-20.6M1907.80 3406.00v20.6M1907.80 3460.90v-20.6" fill="none" stroke="#111" stroke-width="1.8"/>
<path d="M369.06 3461.35H635.8M756.8 3461.35H2289.60" fill="none" stroke="#0072bd" stroke-width="1.25"/>
<path d="M635.8 3460.3 L650.6 3458.9 L660.9 3450.9 L669.7 3450.3 L677.1 3453.8 L686.0 3451.5 L693.4 3447.4 L700.7 3411.0 L717.0 3431.7 L723.8 3410.5 L731.7 3459.8 L756.8 3460.0" fill="none" stroke="#0072bd" stroke-width="0.95" stroke-linejoin="round"/>
<text x="562.30" y="3448.00" font-size="48.8" font-weight="bold" class="b">92Hz</text>
<text x="369.66" y="3538.71" font-size="67.1" text-anchor="middle">0</text>
<text y="3538.71" font-size="67.1"><tspan x="707.53" textLength="25.16" lengthAdjust="spacingAndGlyphs">1</tspan><tspan x="737.72">00</tspan></text>
<text x="1138.70" y="3538.71" font-size="67.1" text-anchor="middle">200</text>
<text y="3538.71" font-size="67.1"><tspan x="1473.98" textLength="31.20" lengthAdjust="spacingAndGlyphs">3</tspan><tspan x="1506.33">00</tspan></text>
<text x="1907.50" y="3538.71" font-size="67.1" text-anchor="middle">400</text>
<text x="2291.40" y="3538.71" font-size="67.1" text-anchor="middle">500</text>
<text x="351.96" y="3429.00" font-size="67.1" text-anchor="end">5</text>
<text x="351.96" y="3484.10" font-size="67.1" text-anchor="end">0</text>
<text y="3391.30" font-size="67.1"><tspan x="372.36" y="3403.10" font-size="84" style="stroke:#fff;stroke-width:0.5px">×</tspan><tspan x="425.51" y="3391.30" textLength="25.16" lengthAdjust="spacingAndGlyphs">1</tspan><tspan x="455.71">0</tspan><tspan x="476.96" y="3362.30" font-size="51.5" class="k" style="stroke:none" textLength="31.37" lengthAdjust="spacingAndGlyphs">−</tspan><tspan x="506.81" y="3360.90" font-size="51.5" class="k" style="stroke:none" textLength="23.18" lengthAdjust="spacingAndGlyphs">4</tspan></text>
<text transform="translate(297.06 3543.35) rotate(-90)" font-size="73.8">BIMF2</text>
<rect x="369.96" y="3650.00" width="1922.14" height="54.90" fill="none" stroke="#111" stroke-width="1.9"/>
<path d="M754.80 3650.00v20.6M754.80 3704.90v-20.6M1139.00 3650.00v20.6M1139.00 3704.90v-20.6M1523.40 3650.00v20.6M1523.40 3704.90v-20.6M1907.80 3650.00v20.6M1907.80 3704.90v-20.6M369.96 3665.90h20.0M2292.10 3665.90h-20.0M369.96 3685.90h20.0M2292.10 3685.90h-20.0" fill="none" stroke="#111" stroke-width="1.8"/>
<path d="M369.06 3705.35H574.2M653.9 3705.35H2289.60" fill="none" stroke="#0072bd" stroke-width="1.25"/>
<path d="M574.2 3704.9 L594.8 3704.3 L600.7 3702.3 L617.0 3662.4 L623.8 3650.0 L630.3 3671.3 L638.5 3697.3 L645.0 3700.8 L653.9 3704.9" fill="none" stroke="#0072bd" stroke-width="0.95" stroke-linejoin="round"/>
<text x="489.70" y="3694.30" font-size="48.8" font-weight="bold" class="b">66Hz</text>
<text x="369.66" y="3782.27" font-size="67.1" text-anchor="middle">0</text>
<text y="3782.27" font-size="67.1"><tspan x="707.53" textLength="25.16" lengthAdjust="spacingAndGlyphs">1</tspan><tspan x="737.72">00</tspan></text>
<text x="1138.70" y="3782.27" font-size="67.1" text-anchor="middle">200</text>
<text y="3782.27" font-size="67.1"><tspan x="1473.98" textLength="31.20" lengthAdjust="spacingAndGlyphs">3</tspan><tspan x="1506.33">00</tspan></text>
<text x="1907.50" y="3782.27" font-size="67.1" text-anchor="middle">400</text>
<text x="2291.40" y="3782.27" font-size="67.1" text-anchor="middle">500</text>
<text y="3688.90" font-size="67.1"><tspan x="321.76" textLength="25.16" lengthAdjust="spacingAndGlyphs">1</tspan></text>
<text x="351.96" y="3728.10" font-size="67.1" text-anchor="end">0</text>
<text y="3635.30" font-size="67.1"><tspan x="372.36" y="3647.10" font-size="84" style="stroke:#fff;stroke-width:0.5px">×</tspan><tspan x="425.51" y="3635.30" textLength="25.16" lengthAdjust="spacingAndGlyphs">1</tspan><tspan x="455.71">0</tspan><tspan x="476.96" y="3604.30" font-size="51.5" class="k" style="stroke:none" textLength="31.37" lengthAdjust="spacingAndGlyphs">−</tspan><tspan x="506.81" y="3602.90" font-size="51.5" class="k" style="stroke:none" textLength="23.18" lengthAdjust="spacingAndGlyphs">3</tspan></text>
<text transform="translate(297.06 3787.35) rotate(-90)" font-size="73.8">BIMF3</text>
<rect x="369.96" y="3893.00" width="1922.14" height="54.90" fill="none" stroke="#111" stroke-width="1.9"/>
<path d="M754.80 3893.00v20.6M754.80 3947.90v-20.6M1139.00 3893.00v20.6M1139.00 3947.90v-20.6M1523.40 3893.00v20.6M1523.40 3947.90v-20.6M1907.80 3893.00v20.6M1907.80 3947.90v-20.6" fill="none" stroke="#111" stroke-width="1.8"/>
<path d="M369.06 3948.00H482.7M600.7 3948.00H2289.60" fill="none" stroke="#0072bd" stroke-width="1.25"/>
<path d="M482.7 3947.3 L500.4 3947.3 L507.7 3940.8 L515.7 3912.8 L524.0 3906.3 L538.7 3914.3 L554.1 3898.0 L561.8 3932.6 L568.9 3941.4 L577.1 3946.2 L600.7 3947.3" fill="none" stroke="#0072bd" stroke-width="0.95" stroke-linejoin="round"/>
<text x="580.75" y="3937.30" font-size="48.8" font-weight="bold" class="b">48Hz</text>
<text x="369.66" y="4025.83" font-size="67.1" text-anchor="middle">0</text>
<text y="4025.83" font-size="67.1"><tspan x="707.53" textLength="25.16" lengthAdjust="spacingAndGlyphs">1</tspan><tspan x="737.72">00</tspan></text>
<text x="1138.70" y="4025.83" font-size="67.1" text-anchor="middle">200</text>
<text y="4025.83" font-size="67.1"><tspan x="1473.98" textLength="31.20" lengthAdjust="spacingAndGlyphs">3</tspan><tspan x="1506.33">00</tspan></text>
<text x="1907.50" y="4025.83" font-size="67.1" text-anchor="middle">400</text>
<text x="2291.40" y="4025.83" font-size="67.1" text-anchor="middle">500</text>
<text x="351.96" y="3916.00" font-size="67.1" text-anchor="end">5</text>
<text x="351.96" y="3971.10" font-size="67.1" text-anchor="end">0</text>
<text y="3878.30" font-size="67.1"><tspan x="372.36" y="3890.10" font-size="84" style="stroke:#fff;stroke-width:0.5px">×</tspan><tspan x="425.51" y="3878.30" textLength="25.16" lengthAdjust="spacingAndGlyphs">1</tspan><tspan x="455.71">0</tspan><tspan x="476.96" y="3846.80" font-size="51.5" class="k" style="stroke:none" textLength="31.37" lengthAdjust="spacingAndGlyphs">−</tspan><tspan x="506.81" y="3845.40" font-size="51.5" class="k" style="stroke:none" textLength="23.18" lengthAdjust="spacingAndGlyphs">4</tspan></text>
<text transform="translate(297.06 4030.35) rotate(-90)" font-size="73.8">BIMF4</text>
<rect x="369.96" y="4137.00" width="1922.14" height="54.90" fill="none" stroke="#111" stroke-width="1.9"/>
<path d="M754.80 4137.00v20.6M754.80 4191.90v-20.6M1139.00 4137.00v20.6M1139.00 4191.90v-20.6M1523.40 4137.00v20.6M1523.40 4191.90v-20.6M1907.80 4137.00v20.6M1907.80 4191.90v-20.6M369.96 4141.90h20.0M2292.10 4141.90h-20.0M369.96 4166.95h20.0M2292.10 4166.95h-20.0" fill="none" stroke="#111" stroke-width="1.8"/>
<path d="M369.06 4191.40H419.0M510.6 4191.40H2289.60" fill="none" stroke="#0072bd" stroke-width="1.25"/>
<path d="M419.0 4191.3 L430.8 4189.3 L438.2 4183.4 L446.2 4155.3 L454.5 4137.0 L461.8 4176.0 L470.7 4180.4 L478.1 4185.7 L486.9 4187.2 L501.7 4187.2 L510.6 4191.3" fill="none" stroke="#0072bd" stroke-width="0.95" stroke-linejoin="round"/>
<text x="488.55" y="4178.40" font-size="48.8" font-weight="bold" class="b">22Hz</text>
<text x="369.66" y="4269.39" font-size="67.1" text-anchor="middle">0</text>
<text y="4269.39" font-size="67.1"><tspan x="707.53" textLength="25.16" lengthAdjust="spacingAndGlyphs">1</tspan><tspan x="737.72">00</tspan></text>
<text x="1138.70" y="4269.39" font-size="67.1" text-anchor="middle">200</text>
<text y="4269.39" font-size="67.1"><tspan x="1473.98" textLength="31.20" lengthAdjust="spacingAndGlyphs">3</tspan><tspan x="1506.33">00</tspan></text>
<text x="1907.50" y="4269.39" font-size="67.1" text-anchor="middle">400</text>
<text x="2291.40" y="4269.39" font-size="67.1" text-anchor="middle">500</text>
<text x="351.96" y="4164.90" font-size="67.1" text-anchor="end">2</text>
<text x="351.96" y="4215.10" font-size="67.1" text-anchor="end">0</text>
<text y="4122.30" font-size="67.1"><tspan x="372.36" y="4134.10" font-size="84" style="stroke:#fff;stroke-width:0.5px">×</tspan><tspan x="425.51" y="4122.30" textLength="25.16" lengthAdjust="spacingAndGlyphs">1</tspan><tspan x="455.71">0</tspan><tspan x="476.96" y="4092.00" font-size="51.5" class="k" style="stroke:none" textLength="31.37" lengthAdjust="spacingAndGlyphs">−</tspan><tspan x="506.81" y="4090.60" font-size="51.5" class="k" style="stroke:none" textLength="23.18" lengthAdjust="spacingAndGlyphs">3</tspan></text>
<text transform="translate(297.06 4274.35) rotate(-90)" font-size="73.8">BIMF5</text>
<text x="868.58" y="3138.30" font-size="73.8" class="k">Marginal Spectrum of Footstep</text>
<text transform="translate(127.56 3835.31) rotate(-90)" font-size="73.8">Amplitude</text>
<text x="1106.57" y="4353.10" font-size="73.8">Frequency(Hz)</text>
<text y="4486.90" font-size="85" class="k"><tspan x="1208.60">(</tspan><tspan x="1236.85" font-weight="bold">c</tspan><tspan x="1272.95">)</tspan></text>
</g>
</svg>
</body>
</html>
